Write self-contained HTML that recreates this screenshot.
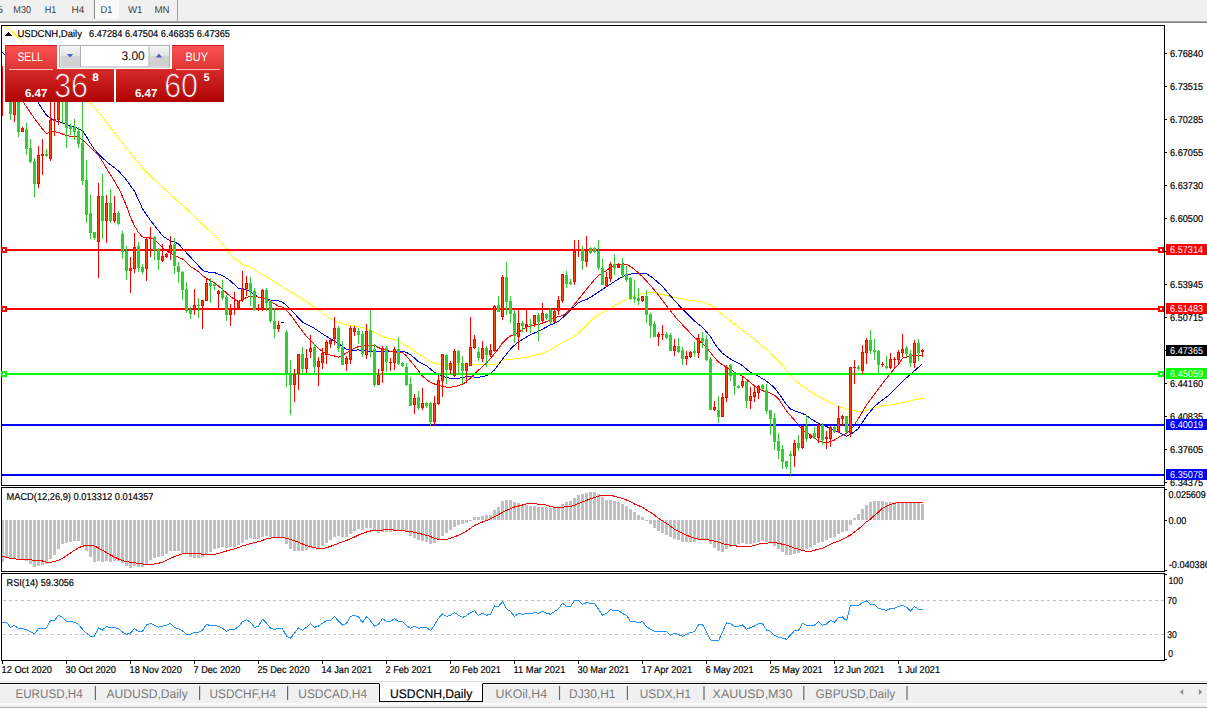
<!DOCTYPE html>
<html><head><meta charset="utf-8"><title>USDCNH,Daily</title>
<style>
html,body{margin:0;padding:0;background:#fff;}
body{width:1207px;height:709px;overflow:hidden;position:relative;font-family:"Liberation Sans",sans-serif;}
#toolbar{position:absolute;left:0;top:0;width:1207px;height:21px;background:#f0f0f0;}
#toolbar .tf{position:absolute;top:3px;font-size:11px;color:#444;line-height:13px;white-space:nowrap;}
#tbline1{position:absolute;left:0;top:21px;width:1207px;height:1px;background:#a8a8a8;}
#tbline2{position:absolute;left:0;top:22px;width:1207px;height:1px;background:#7e7e7e;}
#d1btn{position:absolute;left:94px;top:0;width:25px;height:19px;background:#f9f9f9;border-left:1px solid #8a8a8a;box-sizing:border-box;}
#tbsep{position:absolute;left:177px;top:0;width:1px;height:21px;background:#a0a0a0;}
#chart{position:absolute;left:0;top:0;}
#tabs{position:absolute;left:0;top:681px;width:1207px;height:27px;background:#f0f0f0;}
#tabs .ln0{position:absolute;left:0;top:0;width:100%;height:1px;background:#dedede;}
#tabs .ln0b{position:absolute;left:0;top:1px;width:100%;height:1px;background:#fff;}
#tabs .ln1{position:absolute;left:0;top:2px;width:100%;height:1px;background:#000;}
#tabs .ln1b{position:absolute;left:0;top:3px;width:100%;height:1px;background:#fdfdfd;}
#tabs .ln2{position:absolute;left:0;top:22px;width:100%;height:2px;background:#fbfbfb;}
#tabs .ln3{position:absolute;left:0;top:24px;width:100%;height:2px;background:#f0f0f0;border-bottom:1px solid #b0b0b0;}
#tabs .tab{position:absolute;top:5px;font-size:12.5px;line-height:15px;color:#7b7b7b;white-space:nowrap;transform-origin:0 0;}
#tabs .sep{position:absolute;top:7px;width:1px;height:12px;background:#7b7b7b;}
#tabs .active{position:absolute;left:379px;top:2px;width:104px;height:19px;background:#fff;border:1px solid #000;border-top:1px solid #fff;box-sizing:border-box;}
#panel{position:absolute;left:0;top:0;}
</style></head><body>

<div id="toolbar">
<div id="d1btn"></div><div id="tbsep"></div>
<svg width="1207" height="21" style="position:absolute;left:0;top:0" font-family="Liberation Sans, sans-serif" text-rendering="geometricPrecision"><text x="-3" y="13" font-size="10" fill="#3c3c3c" font-weight="normal" text-anchor="start" textLength="6.0" lengthAdjust="spacingAndGlyphs" >5</text><text x="13.3" y="13" font-size="10" fill="#3c3c3c" font-weight="normal" text-anchor="start" textLength="17.7" lengthAdjust="spacingAndGlyphs" >M30</text><text x="44.7" y="13" font-size="10" fill="#3c3c3c" font-weight="normal" text-anchor="start" textLength="11.6" lengthAdjust="spacingAndGlyphs" >H1</text><text x="71.6" y="13" font-size="10" fill="#3c3c3c" font-weight="normal" text-anchor="start" textLength="12.9" lengthAdjust="spacingAndGlyphs" >H4</text><text x="100.6" y="13" font-size="10" fill="#3c3c3c" font-weight="normal" text-anchor="start" textLength="11.7" lengthAdjust="spacingAndGlyphs" >D1</text><text x="128" y="13" font-size="10" fill="#3c3c3c" font-weight="normal" text-anchor="start" textLength="14.5" lengthAdjust="spacingAndGlyphs" >W1</text><text x="154.5" y="13" font-size="10" fill="#3c3c3c" font-weight="normal" text-anchor="start" textLength="15.0" lengthAdjust="spacingAndGlyphs" >MN</text></svg>
</div><div id="tbline1"></div><div id="tbline2"></div>
<svg id="chart" width="1207" height="681" viewBox="0 0 1207 681" font-family="Liberation Sans, sans-serif" text-rendering="geometricPrecision">
<g shape-rendering="crispEdges" fill="#000">
<rect x="1" y="25" width="1164" height="1"/>
<rect x="1" y="25" width="1" height="461"/>
<rect x="1" y="485" width="1164" height="1"/>
<rect x="1164" y="25" width="1" height="461"/>
<rect x="1" y="487" width="1164" height="1"/><rect x="1" y="487" width="1" height="85"/><rect x="1" y="571" width="1164" height="1"/><rect x="1164" y="487" width="1" height="85"/>
<rect x="1" y="573" width="1164" height="1"/><rect x="1" y="573" width="1" height="88"/><rect x="1" y="660" width="1164" height="1"/><rect x="1164" y="573" width="1" height="88"/>
</g>
<defs><clipPath id="cm"><rect x="2" y="26" width="1162" height="459"/></clipPath><clipPath id="cd"><rect x="2" y="488" width="1162" height="83"/></clipPath><clipPath id="cr"><rect x="2" y="574" width="1162" height="86"/></clipPath></defs>
<g clip-path="url(#cm)">
<polyline fill="none" stroke="#ffff00" stroke-width="1.0" stroke-linejoin="round" shape-rendering="crispEdges" points="5.0,25.0 6.5,26.4 10.5,30.2 14.5,34.0 18.5,37.8 22.5,41.6 26.5,45.2 30.5,48.7 34.5,52.2 38.5,55.7 42.5,59.2 46.5,62.9 50.5,66.5 54.5,70.0 58.5,73.7 62.5,77.3 66.5,81.0 70.5,84.7 74.5,88.4 78.5,92.0 82.5,95.7 86.5,99.4 90.5,103.1 94.5,107.5 98.5,112.3 102.5,117.3 106.5,122.5 110.5,127.7 114.5,132.9 118.5,138.1 122.5,143.1 126.5,148.1 130.5,153.0 134.5,158.0 138.5,162.9 142.5,167.9 146.5,172.2 150.5,176.0 154.5,179.8 158.5,183.6 162.5,187.2 166.5,190.8 170.5,194.4 174.5,198.1 178.5,201.7 182.5,205.3 186.5,209.1 190.5,212.8 194.5,216.5 198.5,220.3 202.5,224.1 206.5,227.8 210.5,231.7 214.5,235.7 218.5,239.7 222.5,243.7 226.5,249.2 230.5,254.7 234.5,258.2 238.5,261.7 242.5,264.5 246.5,265.8 250.5,267.2 254.5,269.8 258.5,272.5 262.5,274.8 266.5,276.9 270.5,279.1 274.5,281.7 278.5,284.2 282.5,286.8 286.5,289.4 290.5,291.8 294.5,294.2 298.5,296.6 302.5,299.0 306.5,301.4 310.5,304.4 314.5,307.4 318.5,310.4 322.5,313.2 326.5,315.8 330.5,318.4 334.5,320.7 338.5,322.1 342.5,323.6 346.5,324.9 350.5,325.5 354.5,326.0 358.5,326.5 362.5,327.7 366.5,329.1 370.5,330.4 374.5,332.4 378.5,334.4 382.5,336.4 386.5,337.6 390.5,338.6 394.5,339.6 398.5,340.9 402.5,343.4 406.5,346.0 410.5,348.5 414.5,351.0 418.5,353.6 422.5,356.2 426.5,358.8 430.5,361.4 434.5,363.0 438.5,364.6 442.5,365.2 446.5,365.4 450.5,365.4 454.5,365.0 458.5,364.6 462.5,364.6 466.5,364.6 470.5,364.6 474.5,364.6 478.5,364.6 482.5,364.5 486.5,364.4 490.5,364.3 494.5,364.2 498.5,362.2 502.5,360.0 506.5,359.7 510.5,359.3 514.5,359.0 518.5,358.4 522.5,357.9 526.5,357.4 530.5,356.4 534.5,355.2 538.5,354.6 542.5,353.4 546.5,351.6 550.5,349.7 554.5,347.3 558.5,344.9 562.5,342.6 566.5,340.5 570.5,338.3 574.5,336.1 578.5,333.0 582.5,329.0 586.5,325.1 590.5,321.1 594.5,317.1 598.5,314.8 602.5,312.8 606.5,310.8 610.5,308.3 614.5,305.6 618.5,303.4 622.5,301.4 626.5,299.4 630.5,297.4 634.5,296.0 638.5,294.7 642.5,293.4 646.5,292.9 650.5,292.3 654.5,292.9 658.5,293.7 662.5,294.5 666.5,295.5 670.5,296.5 674.5,297.5 678.5,298.2 682.5,298.9 686.5,299.7 690.5,300.4 694.5,301.0 698.5,301.5 702.5,302.1 706.5,303.2 710.5,305.0 714.5,308.0 718.5,311.5 722.5,314.7 726.5,317.8 730.5,321.0 734.5,324.1 738.5,327.1 742.5,330.2 746.5,333.3 750.5,336.3 754.5,339.4 758.5,342.7 762.5,346.2 766.5,349.6 770.5,353.2 774.5,357.2 778.5,361.2 782.5,365.2 786.5,370.5 790.5,375.8 794.5,379.4 798.5,383.0 802.5,386.1 806.5,388.9 810.5,391.6 814.5,394.0 818.5,396.4 822.5,398.6 826.5,400.6 830.5,402.6 834.5,404.6 838.5,406.6 842.5,407.9 846.5,409.2 850.5,410.2 854.5,410.8 858.5,411.5 862.5,411.3 866.5,410.5 870.5,408.9 874.5,407.6 878.5,406.6 882.5,405.8 886.5,405.4 890.5,404.9 894.5,404.1 898.5,403.3 902.5,402.5 906.5,401.7 910.5,400.9 914.5,399.9 918.5,399.0 922.5,398.0"/>
<polyline fill="none" stroke="#0000dd" stroke-width="1.0" stroke-linejoin="round" shape-rendering="crispEdges" points="1.5,52.0 2.5,52.3 6.5,56.9 10.5,62.8 14.5,68.8 18.5,74.8 22.5,80.8 26.5,86.8 30.5,92.6 34.5,97.8 38.5,102.9 42.5,109.5 46.5,115.2 50.5,118.4 54.5,120.7 58.5,121.7 62.5,122.8 66.5,124.4 70.5,126.1 74.5,127.3 78.5,128.6 82.5,130.7 86.5,136.7 90.5,143.5 94.5,149.6 98.5,154.0 102.5,158.0 106.5,161.6 110.5,164.8 114.5,167.7 118.5,171.0 122.5,175.4 126.5,180.0 130.5,185.7 134.5,191.3 138.5,199.8 142.5,208.7 146.5,214.7 150.5,220.5 154.5,225.5 158.5,230.6 162.5,235.9 166.5,238.5 170.5,240.8 174.5,242.1 178.5,244.0 182.5,248.4 186.5,252.8 190.5,257.1 194.5,261.5 198.5,265.8 202.5,270.2 206.5,271.9 210.5,272.2 214.5,272.6 218.5,274.1 222.5,275.6 226.5,278.1 230.5,281.1 234.5,284.7 238.5,288.2 242.5,288.8 246.5,289.5 250.5,292.0 254.5,295.0 258.5,297.1 262.5,298.1 266.5,299.3 270.5,300.1 274.5,300.1 278.5,300.8 282.5,302.3 286.5,305.4 290.5,309.5 294.5,313.6 298.5,318.0 302.5,322.2 306.5,324.2 310.5,326.2 314.5,328.5 318.5,331.2 322.5,333.9 326.5,336.4 330.5,338.8 334.5,341.2 338.5,343.6 342.5,346.5 346.5,349.6 350.5,350.1 354.5,350.2 358.5,349.9 362.5,350.4 366.5,351.1 370.5,351.4 374.5,351.4 378.5,351.4 382.5,351.4 386.5,351.4 390.5,351.4 394.5,351.4 398.5,351.4 402.5,351.4 406.5,352.3 410.5,354.8 414.5,358.1 418.5,361.8 422.5,363.8 426.5,365.8 430.5,369.1 434.5,372.5 438.5,374.5 442.5,376.0 446.5,377.4 450.5,378.3 454.5,378.3 458.5,378.3 462.5,377.5 466.5,376.7 470.5,376.7 474.5,377.1 478.5,377.4 482.5,376.6 486.5,375.8 490.5,373.6 494.5,369.9 498.5,364.6 502.5,359.3 506.5,354.1 510.5,349.1 514.5,345.2 518.5,341.8 522.5,339.3 526.5,337.0 530.5,334.9 534.5,333.0 538.5,331.2 542.5,329.1 546.5,327.0 550.5,324.9 554.5,323.3 558.5,321.4 562.5,317.8 566.5,314.1 570.5,310.1 574.5,306.3 578.5,302.7 582.5,300.8 586.5,299.7 590.5,297.3 594.5,294.7 598.5,292.0 602.5,289.4 606.5,286.8 610.5,284.2 614.5,281.5 618.5,279.0 622.5,276.6 626.5,275.0 630.5,274.1 634.5,273.6 638.5,273.3 642.5,273.3 646.5,273.8 650.5,276.3 654.5,279.3 658.5,282.9 662.5,286.5 666.5,291.2 670.5,295.9 674.5,300.4 678.5,304.8 682.5,309.2 686.5,313.2 690.5,317.2 694.5,321.0 698.5,324.2 702.5,327.4 706.5,331.9 710.5,336.7 714.5,343.4 718.5,348.8 722.5,353.4 726.5,356.2 730.5,359.0 734.5,361.2 738.5,363.2 742.5,365.6 746.5,369.1 750.5,372.2 754.5,374.2 758.5,376.3 762.5,378.7 766.5,381.1 770.5,384.4 774.5,387.9 778.5,393.0 782.5,398.6 786.5,404.6 790.5,409.0 794.5,410.9 798.5,412.2 802.5,413.6 806.5,415.4 810.5,418.6 814.5,421.0 818.5,423.2 822.5,425.0 826.5,426.6 830.5,428.3 834.5,430.3 838.5,432.3 842.5,434.3 846.5,436.3 850.5,434.5 854.5,431.6 858.5,428.4 862.5,422.3 866.5,416.1 870.5,411.1 874.5,406.6 878.5,403.0 882.5,400.0 886.5,397.0 890.5,393.7 894.5,389.5 898.5,385.3 902.5,381.6 906.5,377.8 910.5,374.3 914.5,370.8 918.5,367.2 922.5,363.6"/>
<polyline fill="none" stroke="#ff0000" stroke-width="1.0" stroke-linejoin="round" shape-rendering="crispEdges" points="8.0,80.0 10.5,83.8 14.5,89.8 18.5,95.7 22.5,101.2 26.5,106.8 30.5,112.7 34.5,118.4 38.5,124.0 42.5,129.0 46.5,133.9 50.5,131.9 54.5,131.7 58.5,132.5 62.5,134.0 66.5,135.5 70.5,136.4 74.5,136.6 78.5,137.3 82.5,140.1 86.5,143.5 90.5,147.5 94.5,151.5 98.5,155.6 102.5,161.4 106.5,168.3 110.5,174.8 114.5,181.2 118.5,188.3 122.5,196.4 126.5,206.2 130.5,217.1 134.5,225.8 138.5,232.5 142.5,237.0 146.5,237.3 150.5,237.7 154.5,239.2 158.5,243.8 162.5,247.5 166.5,250.9 170.5,253.2 174.5,255.4 178.5,257.3 182.5,258.8 186.5,262.7 190.5,266.6 194.5,269.0 198.5,271.7 202.5,275.7 206.5,278.5 210.5,280.5 214.5,283.0 218.5,286.0 222.5,289.5 226.5,293.0 230.5,296.4 234.5,299.6 238.5,301.2 242.5,299.6 246.5,297.4 250.5,296.5 254.5,296.6 258.5,297.1 262.5,298.1 266.5,299.8 270.5,301.7 274.5,303.9 278.5,306.1 282.5,307.1 286.5,310.4 290.5,314.9 294.5,320.3 298.5,325.8 302.5,331.3 306.5,336.5 310.5,340.5 314.5,344.5 318.5,348.5 322.5,351.6 326.5,353.8 330.5,355.1 334.5,356.0 338.5,357.3 342.5,355.3 346.5,352.9 350.5,350.4 354.5,348.2 358.5,346.6 362.5,345.8 366.5,345.0 370.5,345.0 374.5,345.3 378.5,347.6 382.5,349.1 386.5,350.4 390.5,351.4 394.5,352.3 398.5,352.3 402.5,352.3 406.5,356.1 410.5,360.9 414.5,365.9 418.5,370.9 422.5,376.0 426.5,379.4 430.5,382.4 434.5,384.0 438.5,385.4 442.5,386.4 446.5,387.1 450.5,387.2 454.5,386.5 458.5,385.6 462.5,384.3 466.5,381.6 470.5,378.0 474.5,374.1 478.5,370.1 482.5,366.6 486.5,363.0 490.5,358.5 494.5,353.7 498.5,348.4 502.5,343.0 506.5,338.8 510.5,336.0 514.5,335.3 518.5,332.4 522.5,329.4 526.5,326.9 530.5,325.9 534.5,325.0 538.5,324.4 542.5,323.2 546.5,321.6 550.5,319.6 554.5,317.4 558.5,316.8 562.5,315.6 566.5,313.0 570.5,308.9 574.5,304.2 578.5,299.3 582.5,294.3 586.5,289.2 590.5,284.3 594.5,279.6 598.5,275.2 602.5,273.2 606.5,270.6 610.5,267.6 614.5,265.4 618.5,264.4 622.5,263.9 626.5,264.2 630.5,266.6 634.5,269.6 638.5,273.0 642.5,276.7 646.5,281.1 650.5,285.6 654.5,290.1 658.5,295.1 662.5,300.6 666.5,305.8 670.5,310.8 674.5,315.8 678.5,320.8 682.5,324.8 686.5,328.9 690.5,333.4 694.5,337.5 698.5,340.6 702.5,343.5 706.5,347.5 710.5,352.6 714.5,357.6 718.5,362.1 722.5,364.7 726.5,367.2 730.5,369.7 734.5,372.1 738.5,374.1 742.5,376.3 746.5,379.3 750.5,382.5 754.5,386.0 758.5,388.9 762.5,390.6 766.5,392.1 770.5,393.1 774.5,395.1 778.5,398.8 782.5,405.1 786.5,411.0 790.5,415.6 794.5,420.2 798.5,425.1 802.5,430.1 806.5,432.6 810.5,435.2 814.5,438.2 818.5,440.9 822.5,442.2 826.5,442.9 830.5,441.6 834.5,440.0 838.5,437.5 842.5,435.1 846.5,433.1 850.5,430.1 854.5,424.7 858.5,418.3 862.5,411.6 866.5,405.0 870.5,399.4 874.5,394.1 878.5,388.7 882.5,383.5 886.5,378.4 890.5,373.3 894.5,368.7 898.5,364.2 902.5,358.2 906.5,357.0 910.5,355.6 914.5,355.4 918.5,355.2 922.5,355.0"/>
</g>
<rect x="2" y="249" width="1162" height="2" fill="#ff0000" shape-rendering="crispEdges"/><rect x="1" y="247" width="6" height="6" fill="#ff0000" shape-rendering="crispEdges"/><rect x="3" y="249" width="2" height="2" fill="#fff" shape-rendering="crispEdges"/><rect x="1158" y="247" width="6" height="6" fill="#ff0000" shape-rendering="crispEdges"/><rect x="1160" y="249" width="2" height="2" fill="#fff" shape-rendering="crispEdges"/>
<rect x="2" y="308" width="1162" height="2" fill="#ff0000" shape-rendering="crispEdges"/><rect x="1" y="306" width="6" height="6" fill="#ff0000" shape-rendering="crispEdges"/><rect x="3" y="308" width="2" height="2" fill="#fff" shape-rendering="crispEdges"/><rect x="1158" y="306" width="6" height="6" fill="#ff0000" shape-rendering="crispEdges"/><rect x="1160" y="308" width="2" height="2" fill="#fff" shape-rendering="crispEdges"/>
<rect x="2" y="373" width="1162" height="2" fill="#00ff00" shape-rendering="crispEdges"/><rect x="1" y="371" width="6" height="6" fill="#00ff00" shape-rendering="crispEdges"/><rect x="3" y="373" width="2" height="2" fill="#fff" shape-rendering="crispEdges"/><rect x="1158" y="371" width="6" height="6" fill="#00ff00" shape-rendering="crispEdges"/><rect x="1160" y="373" width="2" height="2" fill="#fff" shape-rendering="crispEdges"/>
<rect x="2" y="424" width="1162" height="2" fill="#0000ff" shape-rendering="crispEdges"/>
<rect x="2" y="474" width="1162" height="2" fill="#0000ff" shape-rendering="crispEdges"/>
<g clip-path="url(#cm)">
<g shape-rendering="crispEdges"><rect x="2.0" y="66.0" width="1" height="50.0" fill="#ff0000"/><rect x="6.0" y="60.0" width="1" height="39.0" fill="#32cd32"/><rect x="5.0" y="70.0" width="3" height="25.0" fill="#32cd32"/><rect x="10.0" y="80.0" width="1" height="39.7" fill="#32cd32"/><rect x="9.0" y="85.0" width="3" height="28.7" fill="#32cd32"/><rect x="14.0" y="80.0" width="1" height="41.6" fill="#ff0000"/><rect x="13.0" y="86.0" width="3" height="28.5" fill="#ff0000"/><rect x="14.0" y="87.0" width="1" height="26.5" fill="#ff4800"/><rect x="18.0" y="85.0" width="1" height="51.7" fill="#32cd32"/><rect x="17.0" y="90.0" width="3" height="41.7" fill="#32cd32"/><rect x="22.0" y="127.0" width="1" height="5.0" fill="#ff0000"/><rect x="21.0" y="127.8" width="3" height="3.9" fill="#ff0000"/><rect x="22.0" y="128.8" width="1" height="1.9" fill="#ff4800"/><rect x="26.0" y="123.3" width="1" height="31.4" fill="#32cd32"/><rect x="25.0" y="128.9" width="3" height="19.8" fill="#32cd32"/><rect x="30.0" y="139.2" width="1" height="23.6" fill="#32cd32"/><rect x="29.0" y="148.0" width="3" height="14.0" fill="#32cd32"/><rect x="34.0" y="157.8" width="1" height="38.8" fill="#32cd32"/><rect x="33.0" y="160.9" width="3" height="23.0" fill="#32cd32"/><rect x="38.0" y="146.3" width="1" height="41.4" fill="#ff0000"/><rect x="37.0" y="155.0" width="3" height="28.9" fill="#ff0000"/><rect x="38.0" y="156.0" width="1" height="26.9" fill="#ff4800"/><rect x="42.0" y="139.2" width="1" height="35.6" fill="#ff0000"/><rect x="41.0" y="153.9" width="3" height="1.8" fill="#ff0000"/><rect x="46.0" y="149.0" width="1" height="8.0" fill="#32cd32"/><rect x="45.0" y="153.9" width="3" height="2.1" fill="#32cd32"/><rect x="50.0" y="100.0" width="1" height="60.6" fill="#ff0000"/><rect x="49.0" y="119.7" width="3" height="38.8" fill="#ff0000"/><rect x="50.0" y="120.7" width="1" height="36.8" fill="#ff4800"/><rect x="54.0" y="92.0" width="1" height="44.0" fill="#ff0000"/><rect x="53.0" y="119.0" width="3" height="2.2" fill="#ff0000"/><rect x="58.0" y="88.0" width="1" height="36.7" fill="#ff0000"/><rect x="57.0" y="96.0" width="3" height="23.7" fill="#ff0000"/><rect x="58.0" y="97.0" width="1" height="21.7" fill="#ff4800"/><rect x="62.0" y="85.0" width="1" height="39.0" fill="#32cd32"/><rect x="61.0" y="90.0" width="3" height="10.0" fill="#32cd32"/><rect x="66.0" y="90.0" width="1" height="57.7" fill="#32cd32"/><rect x="65.0" y="98.0" width="3" height="29.8" fill="#32cd32"/><rect x="70.0" y="124.0" width="1" height="10.6" fill="#32cd32"/><rect x="69.0" y="126.4" width="3" height="2.5" fill="#32cd32"/><rect x="74.0" y="119.0" width="1" height="20.8" fill="#32cd32"/><rect x="73.0" y="126.8" width="3" height="4.9" fill="#32cd32"/><rect x="78.0" y="126.8" width="1" height="20.9" fill="#32cd32"/><rect x="77.0" y="131.3" width="3" height="12.4" fill="#32cd32"/><rect x="82.0" y="100.0" width="1" height="84.6" fill="#32cd32"/><rect x="81.0" y="143.0" width="3" height="37.5" fill="#32cd32"/><rect x="86.0" y="160.2" width="1" height="62.6" fill="#32cd32"/><rect x="85.0" y="180.1" width="3" height="34.9" fill="#32cd32"/><rect x="90.0" y="194.8" width="1" height="44.0" fill="#32cd32"/><rect x="89.0" y="213.0" width="3" height="20.3" fill="#32cd32"/><rect x="94.0" y="232.0" width="1" height="8.0" fill="#32cd32"/><rect x="93.0" y="232.4" width="3" height="5.9" fill="#32cd32"/><rect x="98.0" y="182.8" width="1" height="95.1" fill="#ff0000"/><rect x="97.0" y="196.0" width="3" height="46.0" fill="#ff0000"/><rect x="98.0" y="197.0" width="1" height="44.0" fill="#ff4800"/><rect x="102.0" y="174.0" width="1" height="64.8" fill="#32cd32"/><rect x="101.0" y="196.0" width="3" height="25.0" fill="#32cd32"/><rect x="106.0" y="194.8" width="1" height="47.7" fill="#ff0000"/><rect x="105.0" y="203.0" width="3" height="17.5" fill="#ff0000"/><rect x="106.0" y="204.0" width="1" height="15.5" fill="#ff4800"/><rect x="110.0" y="189.3" width="1" height="33.9" fill="#32cd32"/><rect x="109.0" y="203.0" width="3" height="17.5" fill="#32cd32"/><rect x="114.0" y="196.0" width="1" height="27.2" fill="#ff0000"/><rect x="113.0" y="213.0" width="3" height="8.0" fill="#ff0000"/><rect x="114.0" y="214.0" width="1" height="6.0" fill="#ff4800"/><rect x="118.0" y="211.3" width="1" height="13.7" fill="#32cd32"/><rect x="117.0" y="213.0" width="3" height="11.0" fill="#32cd32"/><rect x="122.0" y="231.0" width="1" height="28.0" fill="#32cd32"/><rect x="121.0" y="233.9" width="3" height="17.8" fill="#32cd32"/><rect x="126.0" y="246.0" width="1" height="34.0" fill="#32cd32"/><rect x="125.0" y="250.7" width="3" height="20.3" fill="#32cd32"/><rect x="130.0" y="257.0" width="1" height="35.6" fill="#ff0000"/><rect x="129.0" y="268.0" width="3" height="3.0" fill="#ff0000"/><rect x="130.0" y="269.0" width="1" height="1.0" fill="#ff4800"/><rect x="134.0" y="233.3" width="1" height="39.5" fill="#ff0000"/><rect x="133.0" y="247.0" width="3" height="22.0" fill="#ff0000"/><rect x="134.0" y="248.0" width="1" height="20.0" fill="#ff4800"/><rect x="138.0" y="242.0" width="1" height="29.8" fill="#32cd32"/><rect x="137.0" y="246.0" width="3" height="22.0" fill="#32cd32"/><rect x="142.0" y="264.0" width="1" height="9.7" fill="#32cd32"/><rect x="141.0" y="267.0" width="3" height="4.8" fill="#32cd32"/><rect x="146.0" y="237.9" width="1" height="43.1" fill="#ff0000"/><rect x="145.0" y="238.8" width="3" height="30.2" fill="#ff0000"/><rect x="146.0" y="239.8" width="1" height="28.2" fill="#ff4800"/><rect x="150.0" y="227.0" width="1" height="29.6" fill="#ff0000"/><rect x="149.0" y="237.5" width="3" height="1.9" fill="#ff0000"/><rect x="154.0" y="236.0" width="1" height="24.0" fill="#32cd32"/><rect x="153.0" y="237.0" width="3" height="12.8" fill="#32cd32"/><rect x="158.0" y="248.0" width="1" height="22.0" fill="#32cd32"/><rect x="157.0" y="248.5" width="3" height="11.5" fill="#32cd32"/><rect x="162.0" y="244.3" width="1" height="17.4" fill="#ff0000"/><rect x="161.0" y="256.0" width="3" height="4.8" fill="#ff0000"/><rect x="162.0" y="257.0" width="1" height="2.8" fill="#ff4800"/><rect x="166.0" y="252.6" width="1" height="5.4" fill="#ff0000"/><rect x="165.0" y="253.5" width="3" height="3.5" fill="#ff0000"/><rect x="166.0" y="254.5" width="1" height="1.5" fill="#ff4800"/><rect x="170.0" y="236.0" width="1" height="23.7" fill="#ff0000"/><rect x="169.0" y="244.8" width="3" height="7.8" fill="#ff0000"/><rect x="170.0" y="245.8" width="1" height="5.8" fill="#ff4800"/><rect x="174.0" y="237.9" width="1" height="35.6" fill="#32cd32"/><rect x="173.0" y="244.2" width="3" height="21.3" fill="#32cd32"/><rect x="178.0" y="261.7" width="1" height="21.0" fill="#32cd32"/><rect x="177.0" y="266.0" width="3" height="5.7" fill="#32cd32"/><rect x="182.0" y="270.6" width="1" height="29.2" fill="#32cd32"/><rect x="181.0" y="271.9" width="3" height="17.8" fill="#32cd32"/><rect x="186.0" y="282.0" width="1" height="31.0" fill="#32cd32"/><rect x="185.0" y="288.9" width="3" height="21.7" fill="#32cd32"/><rect x="190.0" y="306.7" width="1" height="12.0" fill="#32cd32"/><rect x="189.0" y="309.8" width="3" height="3.9" fill="#32cd32"/><rect x="194.0" y="288.9" width="1" height="25.6" fill="#ff0000"/><rect x="193.0" y="304.7" width="3" height="4.3" fill="#ff0000"/><rect x="194.0" y="305.7" width="1" height="2.3" fill="#ff4800"/><rect x="198.0" y="297.8" width="1" height="19.8" fill="#32cd32"/><rect x="197.0" y="305.0" width="3" height="1.3" fill="#32cd32"/><rect x="202.0" y="299.8" width="1" height="29.0" fill="#ff0000"/><rect x="201.0" y="300.0" width="3" height="6.3" fill="#ff0000"/><rect x="202.0" y="301.0" width="1" height="4.3" fill="#ff4800"/><rect x="206.0" y="278.0" width="1" height="22.5" fill="#ff0000"/><rect x="205.0" y="282.7" width="3" height="17.8" fill="#ff0000"/><rect x="206.0" y="283.7" width="1" height="15.8" fill="#ff4800"/><rect x="210.0" y="278.0" width="1" height="24.9" fill="#32cd32"/><rect x="209.0" y="282.7" width="3" height="3.1" fill="#32cd32"/><rect x="214.0" y="282.7" width="1" height="7.0" fill="#32cd32"/><rect x="213.0" y="284.0" width="3" height="1.5" fill="#32cd32"/><rect x="218.0" y="290.0" width="1" height="17.5" fill="#ff0000"/><rect x="217.0" y="291.0" width="3" height="3.3" fill="#ff0000"/><rect x="218.0" y="292.0" width="1" height="1.3" fill="#ff4800"/><rect x="222.0" y="279.6" width="1" height="20.2" fill="#32cd32"/><rect x="221.0" y="290.8" width="3" height="7.4" fill="#32cd32"/><rect x="226.0" y="294.8" width="1" height="25.9" fill="#32cd32"/><rect x="225.0" y="296.7" width="3" height="18.3" fill="#32cd32"/><rect x="230.0" y="304.0" width="1" height="21.7" fill="#ff0000"/><rect x="229.0" y="309.0" width="3" height="6.3" fill="#ff0000"/><rect x="230.0" y="310.0" width="1" height="4.3" fill="#ff4800"/><rect x="234.0" y="292.0" width="1" height="22.5" fill="#ff0000"/><rect x="233.0" y="307.5" width="3" height="1.5" fill="#ff0000"/><rect x="238.0" y="300.5" width="1" height="7.8" fill="#ff0000"/><rect x="237.0" y="301.3" width="3" height="6.2" fill="#ff0000"/><rect x="238.0" y="302.3" width="1" height="4.2" fill="#ff4800"/><rect x="242.0" y="271.0" width="1" height="31.0" fill="#ff0000"/><rect x="241.0" y="288.0" width="3" height="11.8" fill="#ff0000"/><rect x="242.0" y="289.0" width="1" height="9.8" fill="#ff4800"/><rect x="246.0" y="275.7" width="1" height="20.2" fill="#ff0000"/><rect x="245.0" y="283.0" width="3" height="5.6" fill="#ff0000"/><rect x="246.0" y="284.0" width="1" height="3.6" fill="#ff4800"/><rect x="250.0" y="277.3" width="1" height="28.2" fill="#32cd32"/><rect x="249.0" y="283.0" width="3" height="9.0" fill="#32cd32"/><rect x="254.0" y="288.0" width="1" height="22.6" fill="#32cd32"/><rect x="253.0" y="291.2" width="3" height="18.6" fill="#32cd32"/><rect x="258.0" y="304.0" width="1" height="7.0" fill="#ff0000"/><rect x="257.0" y="308.0" width="3" height="1.0" fill="#ff0000"/><rect x="262.0" y="288.9" width="1" height="21.9" fill="#ff0000"/><rect x="261.0" y="290.0" width="3" height="18.3" fill="#ff0000"/><rect x="262.0" y="291.0" width="1" height="16.3" fill="#ff4800"/><rect x="266.0" y="288.0" width="1" height="23.0" fill="#32cd32"/><rect x="265.0" y="290.0" width="3" height="12.6" fill="#32cd32"/><rect x="270.0" y="300.2" width="1" height="23.0" fill="#32cd32"/><rect x="269.0" y="301.0" width="3" height="20.3" fill="#32cd32"/><rect x="274.0" y="308.3" width="1" height="29.4" fill="#32cd32"/><rect x="273.0" y="321.2" width="3" height="7.3" fill="#32cd32"/><rect x="278.0" y="321.2" width="1" height="10.6" fill="#ff0000"/><rect x="277.0" y="325.2" width="3" height="3.3" fill="#ff0000"/><rect x="278.0" y="326.2" width="1" height="1.3" fill="#ff4800"/><rect x="282.0" y="322.2" width="1" height="1.0" fill="#000"/><rect x="281.0" y="322.2" width="3" height="1.0" fill="#000"/><rect x="286.0" y="330.0" width="1" height="56.9" fill="#32cd32"/><rect x="285.0" y="331.8" width="3" height="42.6" fill="#32cd32"/><rect x="290.0" y="359.7" width="1" height="55.1" fill="#32cd32"/><rect x="289.0" y="373.5" width="3" height="11.9" fill="#32cd32"/><rect x="294.0" y="369.3" width="1" height="32.7" fill="#ff0000"/><rect x="293.0" y="373.5" width="3" height="11.9" fill="#ff0000"/><rect x="294.0" y="374.5" width="1" height="9.9" fill="#ff4800"/><rect x="298.0" y="353.9" width="1" height="36.1" fill="#ff0000"/><rect x="297.0" y="354.2" width="3" height="19.3" fill="#ff0000"/><rect x="298.0" y="355.2" width="1" height="17.3" fill="#ff4800"/><rect x="302.0" y="347.2" width="1" height="26.3" fill="#32cd32"/><rect x="301.0" y="354.2" width="3" height="14.7" fill="#32cd32"/><rect x="306.0" y="349.0" width="1" height="23.6" fill="#ff0000"/><rect x="305.0" y="358.3" width="3" height="10.6" fill="#ff0000"/><rect x="306.0" y="359.3" width="1" height="8.6" fill="#ff4800"/><rect x="310.0" y="335.0" width="1" height="22.5" fill="#ff0000"/><rect x="309.0" y="348.3" width="3" height="3.2" fill="#ff0000"/><rect x="310.0" y="349.3" width="1" height="1.2" fill="#ff4800"/><rect x="314.0" y="344.0" width="1" height="29.5" fill="#32cd32"/><rect x="313.0" y="346.9" width="3" height="19.8" fill="#32cd32"/><rect x="318.0" y="357.0" width="1" height="28.8" fill="#ff0000"/><rect x="317.0" y="361.2" width="3" height="5.5" fill="#ff0000"/><rect x="318.0" y="362.2" width="1" height="3.5" fill="#ff4800"/><rect x="322.0" y="348.3" width="1" height="20.6" fill="#ff0000"/><rect x="321.0" y="353.3" width="3" height="9.2" fill="#ff0000"/><rect x="322.0" y="354.3" width="1" height="7.2" fill="#ff4800"/><rect x="326.0" y="339.9" width="1" height="24.4" fill="#ff0000"/><rect x="325.0" y="342.3" width="3" height="12.8" fill="#ff0000"/><rect x="326.0" y="343.3" width="1" height="10.8" fill="#ff4800"/><rect x="330.0" y="338.6" width="1" height="9.2" fill="#ff0000"/><rect x="329.0" y="339.9" width="3" height="3.7" fill="#ff0000"/><rect x="330.0" y="340.9" width="1" height="1.7" fill="#ff4800"/><rect x="334.0" y="317.2" width="1" height="27.5" fill="#ff0000"/><rect x="333.0" y="328.2" width="3" height="11.0" fill="#ff0000"/><rect x="334.0" y="329.2" width="1" height="9.0" fill="#ff4800"/><rect x="338.0" y="325.8" width="1" height="25.7" fill="#32cd32"/><rect x="337.0" y="328.2" width="3" height="19.6" fill="#32cd32"/><rect x="342.0" y="341.0" width="1" height="23.9" fill="#32cd32"/><rect x="341.0" y="346.9" width="3" height="18.0" fill="#32cd32"/><rect x="346.0" y="356.4" width="1" height="14.3" fill="#ff0000"/><rect x="345.0" y="357.5" width="3" height="6.8" fill="#ff0000"/><rect x="346.0" y="358.5" width="1" height="4.8" fill="#ff4800"/><rect x="350.0" y="325.8" width="1" height="37.7" fill="#ff0000"/><rect x="349.0" y="328.0" width="3" height="31.5" fill="#ff0000"/><rect x="350.0" y="329.0" width="1" height="29.5" fill="#ff4800"/><rect x="354.0" y="326.4" width="1" height="9.9" fill="#ff0000"/><rect x="353.0" y="328.3" width="3" height="3.7" fill="#ff0000"/><rect x="354.0" y="329.3" width="1" height="1.7" fill="#ff4800"/><rect x="358.0" y="328.0" width="1" height="15.5" fill="#32cd32"/><rect x="357.0" y="331.4" width="3" height="3.7" fill="#32cd32"/><rect x="362.0" y="330.8" width="1" height="26.1" fill="#32cd32"/><rect x="361.0" y="333.9" width="3" height="20.2" fill="#32cd32"/><rect x="366.0" y="323.9" width="1" height="34.8" fill="#ff0000"/><rect x="365.0" y="331.2" width="3" height="23.5" fill="#ff0000"/><rect x="366.0" y="332.2" width="1" height="21.5" fill="#ff4800"/><rect x="370.0" y="310.0" width="1" height="46.9" fill="#32cd32"/><rect x="369.0" y="330.3" width="3" height="21.1" fill="#32cd32"/><rect x="374.0" y="344.0" width="1" height="43.2" fill="#32cd32"/><rect x="373.0" y="349.2" width="3" height="35.6" fill="#32cd32"/><rect x="378.0" y="369.4" width="1" height="15.4" fill="#ff0000"/><rect x="377.0" y="374.9" width="3" height="9.9" fill="#ff0000"/><rect x="378.0" y="375.9" width="1" height="7.9" fill="#ff4800"/><rect x="382.0" y="345.9" width="1" height="37.0" fill="#ff0000"/><rect x="381.0" y="348.0" width="3" height="22.6" fill="#ff0000"/><rect x="382.0" y="349.0" width="1" height="20.6" fill="#ff4800"/><rect x="386.0" y="345.9" width="1" height="26.0" fill="#32cd32"/><rect x="385.0" y="348.0" width="3" height="14.4" fill="#32cd32"/><rect x="390.0" y="357.8" width="1" height="12.8" fill="#ff0000"/><rect x="389.0" y="362.0" width="3" height="1.3" fill="#ff0000"/><rect x="394.0" y="346.8" width="1" height="22.9" fill="#ff0000"/><rect x="393.0" y="349.2" width="3" height="14.1" fill="#ff0000"/><rect x="394.0" y="350.2" width="1" height="12.1" fill="#ff4800"/><rect x="398.0" y="336.7" width="1" height="28.4" fill="#32cd32"/><rect x="397.0" y="349.2" width="3" height="14.7" fill="#32cd32"/><rect x="402.0" y="362.0" width="1" height="4.5" fill="#32cd32"/><rect x="401.0" y="362.8" width="3" height="3.2" fill="#32cd32"/><rect x="406.0" y="363.3" width="1" height="22.9" fill="#32cd32"/><rect x="405.0" y="367.0" width="3" height="18.3" fill="#32cd32"/><rect x="410.0" y="377.0" width="1" height="29.4" fill="#32cd32"/><rect x="409.0" y="384.0" width="3" height="21.5" fill="#32cd32"/><rect x="414.0" y="394.0" width="1" height="20.1" fill="#ff0000"/><rect x="413.0" y="398.2" width="3" height="6.8" fill="#ff0000"/><rect x="414.0" y="399.2" width="1" height="4.8" fill="#ff4800"/><rect x="418.0" y="390.8" width="1" height="19.2" fill="#32cd32"/><rect x="417.0" y="396.9" width="3" height="11.4" fill="#32cd32"/><rect x="422.0" y="388.0" width="1" height="22.0" fill="#ff0000"/><rect x="421.0" y="403.1" width="3" height="5.2" fill="#ff0000"/><rect x="422.0" y="404.1" width="1" height="3.2" fill="#ff4800"/><rect x="426.0" y="401.8" width="1" height="6.1" fill="#32cd32"/><rect x="425.0" y="403.1" width="3" height="2.9" fill="#32cd32"/><rect x="430.0" y="401.8" width="1" height="23.9" fill="#32cd32"/><rect x="429.0" y="402.8" width="3" height="18.7" fill="#32cd32"/><rect x="434.0" y="395.8" width="1" height="29.9" fill="#ff0000"/><rect x="433.0" y="402.8" width="3" height="18.7" fill="#ff0000"/><rect x="434.0" y="403.8" width="1" height="16.7" fill="#ff4800"/><rect x="438.0" y="375.2" width="1" height="29.8" fill="#ff0000"/><rect x="437.0" y="379.8" width="3" height="24.4" fill="#ff0000"/><rect x="438.0" y="380.8" width="1" height="22.4" fill="#ff4800"/><rect x="442.0" y="353.6" width="1" height="43.6" fill="#ff0000"/><rect x="441.0" y="354.3" width="3" height="26.6" fill="#ff0000"/><rect x="442.0" y="355.3" width="1" height="24.6" fill="#ff4800"/><rect x="446.0" y="353.6" width="1" height="30.0" fill="#32cd32"/><rect x="445.0" y="354.8" width="3" height="14.9" fill="#32cd32"/><rect x="450.0" y="360.6" width="1" height="13.2" fill="#ff0000"/><rect x="449.0" y="362.8" width="3" height="6.9" fill="#ff0000"/><rect x="450.0" y="363.8" width="1" height="4.9" fill="#ff4800"/><rect x="454.0" y="349.0" width="1" height="28.4" fill="#ff0000"/><rect x="453.0" y="350.8" width="3" height="24.8" fill="#ff0000"/><rect x="454.0" y="351.8" width="1" height="22.8" fill="#ff4800"/><rect x="458.0" y="349.9" width="1" height="23.9" fill="#32cd32"/><rect x="457.0" y="350.8" width="3" height="12.0" fill="#32cd32"/><rect x="462.0" y="356.3" width="1" height="27.6" fill="#32cd32"/><rect x="461.0" y="363.1" width="3" height="7.9" fill="#32cd32"/><rect x="466.0" y="362.8" width="1" height="19.8" fill="#ff0000"/><rect x="465.0" y="363.1" width="3" height="7.9" fill="#ff0000"/><rect x="466.0" y="364.1" width="1" height="5.9" fill="#ff4800"/><rect x="470.0" y="317.2" width="1" height="48.8" fill="#ff0000"/><rect x="469.0" y="347.2" width="3" height="18.3" fill="#ff0000"/><rect x="470.0" y="348.2" width="1" height="16.3" fill="#ff4800"/><rect x="474.0" y="334.9" width="1" height="14.1" fill="#ff0000"/><rect x="473.0" y="338.9" width="3" height="9.2" fill="#ff0000"/><rect x="474.0" y="339.9" width="1" height="7.2" fill="#ff4800"/><rect x="478.0" y="347.2" width="1" height="13.4" fill="#32cd32"/><rect x="477.0" y="352.1" width="3" height="6.1" fill="#32cd32"/><rect x="482.0" y="341.1" width="1" height="21.3" fill="#ff0000"/><rect x="481.0" y="348.1" width="3" height="11.0" fill="#ff0000"/><rect x="482.0" y="349.1" width="1" height="9.0" fill="#ff4800"/><rect x="486.0" y="346.2" width="1" height="21.1" fill="#32cd32"/><rect x="485.0" y="348.1" width="3" height="7.3" fill="#32cd32"/><rect x="490.0" y="344.0" width="1" height="13.2" fill="#ff0000"/><rect x="489.0" y="349.5" width="3" height="5.5" fill="#ff0000"/><rect x="490.0" y="350.5" width="1" height="3.5" fill="#ff4800"/><rect x="494.0" y="305.0" width="1" height="46.7" fill="#ff0000"/><rect x="493.0" y="305.5" width="3" height="45.3" fill="#ff0000"/><rect x="494.0" y="306.5" width="1" height="43.3" fill="#ff4800"/><rect x="498.0" y="296.0" width="1" height="15.7" fill="#32cd32"/><rect x="497.0" y="305.1" width="3" height="6.5" fill="#32cd32"/><rect x="502.0" y="275.0" width="1" height="44.6" fill="#ff0000"/><rect x="501.0" y="276.5" width="3" height="40.2" fill="#ff0000"/><rect x="502.0" y="277.5" width="1" height="38.2" fill="#ff4800"/><rect x="506.0" y="262.2" width="1" height="52.5" fill="#32cd32"/><rect x="505.0" y="276.9" width="3" height="24.9" fill="#32cd32"/><rect x="510.0" y="295.8" width="1" height="26.7" fill="#32cd32"/><rect x="509.0" y="300.9" width="3" height="12.7" fill="#32cd32"/><rect x="514.0" y="309.9" width="1" height="32.7" fill="#32cd32"/><rect x="513.0" y="312.5" width="3" height="23.8" fill="#32cd32"/><rect x="518.0" y="309.5" width="1" height="40.5" fill="#ff0000"/><rect x="517.0" y="323.2" width="3" height="13.3" fill="#ff0000"/><rect x="518.0" y="324.2" width="1" height="11.3" fill="#ff4800"/><rect x="522.0" y="320.9" width="1" height="11.0" fill="#32cd32"/><rect x="521.0" y="323.0" width="3" height="3.4" fill="#32cd32"/><rect x="526.0" y="309.7" width="1" height="22.2" fill="#ff0000"/><rect x="525.0" y="323.9" width="3" height="2.6" fill="#ff0000"/><rect x="530.0" y="318.9" width="1" height="13.8" fill="#32cd32"/><rect x="529.0" y="324.0" width="3" height="1.0" fill="#32cd32"/><rect x="534.0" y="314.8" width="1" height="11.9" fill="#ff0000"/><rect x="533.0" y="315.3" width="3" height="9.1" fill="#ff0000"/><rect x="534.0" y="316.3" width="1" height="7.1" fill="#ff4800"/><rect x="538.0" y="313.0" width="1" height="27.8" fill="#32cd32"/><rect x="537.0" y="315.0" width="3" height="6.6" fill="#32cd32"/><rect x="542.0" y="303.2" width="1" height="20.6" fill="#ff0000"/><rect x="541.0" y="313.3" width="3" height="7.5" fill="#ff0000"/><rect x="542.0" y="314.3" width="1" height="5.5" fill="#ff4800"/><rect x="546.0" y="313.0" width="1" height="6.6" fill="#32cd32"/><rect x="545.0" y="313.5" width="3" height="4.5" fill="#32cd32"/><rect x="550.0" y="308.1" width="1" height="15.9" fill="#32cd32"/><rect x="549.0" y="309.8" width="3" height="12.0" fill="#32cd32"/><rect x="554.0" y="309.5" width="1" height="13.2" fill="#ff0000"/><rect x="553.0" y="311.1" width="3" height="10.7" fill="#ff0000"/><rect x="554.0" y="312.1" width="1" height="8.7" fill="#ff4800"/><rect x="558.0" y="296.3" width="1" height="18.6" fill="#ff0000"/><rect x="557.0" y="300.2" width="3" height="10.8" fill="#ff0000"/><rect x="558.0" y="301.2" width="1" height="8.8" fill="#ff4800"/><rect x="562.0" y="274.3" width="1" height="28.2" fill="#ff0000"/><rect x="561.0" y="274.4" width="3" height="26.3" fill="#ff0000"/><rect x="562.0" y="275.4" width="1" height="24.3" fill="#ff4800"/><rect x="566.0" y="271.2" width="1" height="16.6" fill="#32cd32"/><rect x="565.0" y="274.6" width="3" height="9.3" fill="#32cd32"/><rect x="570.0" y="279.3" width="1" height="5.9" fill="#32cd32"/><rect x="569.0" y="282.0" width="3" height="2.2" fill="#32cd32"/><rect x="574.0" y="240.2" width="1" height="44.5" fill="#ff0000"/><rect x="573.0" y="250.6" width="3" height="31.0" fill="#ff0000"/><rect x="574.0" y="251.6" width="1" height="29.0" fill="#ff4800"/><rect x="578.0" y="240.2" width="1" height="16.6" fill="#ff0000"/><rect x="577.0" y="249.0" width="3" height="2.0" fill="#ff0000"/><rect x="582.0" y="245.9" width="1" height="24.1" fill="#32cd32"/><rect x="581.0" y="249.0" width="3" height="12.0" fill="#32cd32"/><rect x="586.0" y="236.2" width="1" height="30.7" fill="#ff0000"/><rect x="585.0" y="250.6" width="3" height="11.3" fill="#ff0000"/><rect x="586.0" y="251.6" width="1" height="9.3" fill="#ff4800"/><rect x="590.0" y="247.0" width="1" height="6.7" fill="#32cd32"/><rect x="589.0" y="248.3" width="3" height="4.6" fill="#32cd32"/><rect x="594.0" y="246.7" width="1" height="5.9" fill="#32cd32"/><rect x="593.0" y="247.9" width="3" height="3.8" fill="#32cd32"/><rect x="598.0" y="240.2" width="1" height="29.8" fill="#32cd32"/><rect x="597.0" y="250.6" width="3" height="17.8" fill="#32cd32"/><rect x="602.0" y="259.1" width="1" height="25.6" fill="#32cd32"/><rect x="601.0" y="268.1" width="3" height="16.6" fill="#32cd32"/><rect x="606.0" y="272.3" width="1" height="14.7" fill="#ff0000"/><rect x="605.0" y="276.9" width="3" height="8.6" fill="#ff0000"/><rect x="606.0" y="277.9" width="1" height="6.6" fill="#ff4800"/><rect x="610.0" y="262.2" width="1" height="19.4" fill="#ff0000"/><rect x="609.0" y="264.1" width="3" height="14.4" fill="#ff0000"/><rect x="610.0" y="265.1" width="1" height="12.4" fill="#ff4800"/><rect x="614.0" y="254.1" width="1" height="20.5" fill="#32cd32"/><rect x="613.0" y="264.1" width="3" height="4.0" fill="#32cd32"/><rect x="618.0" y="263.0" width="1" height="5.1" fill="#ff0000"/><rect x="617.0" y="265.0" width="3" height="2.6" fill="#ff0000"/><rect x="622.0" y="257.8" width="1" height="20.4" fill="#32cd32"/><rect x="621.0" y="263.7" width="3" height="11.6" fill="#32cd32"/><rect x="626.0" y="266.0" width="1" height="15.6" fill="#32cd32"/><rect x="625.0" y="273.5" width="3" height="6.4" fill="#32cd32"/><rect x="630.0" y="277.0" width="1" height="23.0" fill="#32cd32"/><rect x="629.0" y="277.5" width="3" height="21.5" fill="#32cd32"/><rect x="634.0" y="280.3" width="1" height="22.4" fill="#32cd32"/><rect x="633.0" y="297.0" width="3" height="2.0" fill="#32cd32"/><rect x="638.0" y="288.0" width="1" height="16.9" fill="#32cd32"/><rect x="637.0" y="297.6" width="3" height="3.3" fill="#32cd32"/><rect x="642.0" y="295.7" width="1" height="5.8" fill="#ff0000"/><rect x="641.0" y="296.3" width="3" height="4.9" fill="#ff0000"/><rect x="642.0" y="297.3" width="1" height="2.9" fill="#ff4800"/><rect x="646.0" y="290.2" width="1" height="32.7" fill="#32cd32"/><rect x="645.0" y="295.7" width="3" height="18.9" fill="#32cd32"/><rect x="650.0" y="313.3" width="1" height="24.3" fill="#32cd32"/><rect x="649.0" y="313.7" width="3" height="12.5" fill="#32cd32"/><rect x="654.0" y="321.0" width="1" height="15.7" fill="#32cd32"/><rect x="653.0" y="324.4" width="3" height="12.3" fill="#32cd32"/><rect x="658.0" y="332.0" width="1" height="13.8" fill="#ff0000"/><rect x="657.0" y="333.5" width="3" height="3.2" fill="#ff0000"/><rect x="658.0" y="334.5" width="1" height="1.2" fill="#ff4800"/><rect x="662.0" y="325.0" width="1" height="14.8" fill="#ff0000"/><rect x="661.0" y="333.9" width="3" height="1.5" fill="#ff0000"/><rect x="666.0" y="332.0" width="1" height="6.5" fill="#32cd32"/><rect x="665.0" y="333.9" width="3" height="3.7" fill="#32cd32"/><rect x="670.0" y="333.0" width="1" height="17.8" fill="#32cd32"/><rect x="669.0" y="334.8" width="3" height="16.0" fill="#32cd32"/><rect x="674.0" y="339.0" width="1" height="16.9" fill="#ff0000"/><rect x="673.0" y="345.8" width="3" height="5.0" fill="#ff0000"/><rect x="674.0" y="346.8" width="1" height="3.0" fill="#ff4800"/><rect x="678.0" y="337.9" width="1" height="15.3" fill="#32cd32"/><rect x="677.0" y="345.8" width="3" height="6.1" fill="#32cd32"/><rect x="682.0" y="346.7" width="1" height="18.4" fill="#32cd32"/><rect x="681.0" y="350.4" width="3" height="8.8" fill="#32cd32"/><rect x="686.0" y="351.3" width="1" height="13.4" fill="#ff0000"/><rect x="685.0" y="355.6" width="3" height="3.1" fill="#ff0000"/><rect x="686.0" y="356.6" width="1" height="1.1" fill="#ff4800"/><rect x="690.0" y="350.8" width="1" height="7.0" fill="#ff0000"/><rect x="689.0" y="351.9" width="3" height="5.5" fill="#ff0000"/><rect x="690.0" y="352.9" width="1" height="3.5" fill="#ff4800"/><rect x="694.0" y="342.2" width="1" height="14.6" fill="#32cd32"/><rect x="693.0" y="351.3" width="3" height="1.9" fill="#32cd32"/><rect x="698.0" y="334.3" width="1" height="23.5" fill="#ff0000"/><rect x="697.0" y="337.9" width="3" height="15.3" fill="#ff0000"/><rect x="698.0" y="338.9" width="1" height="13.3" fill="#ff4800"/><rect x="702.0" y="332.0" width="1" height="15.8" fill="#32cd32"/><rect x="701.0" y="337.9" width="3" height="3.7" fill="#32cd32"/><rect x="706.0" y="335.4" width="1" height="25.5" fill="#32cd32"/><rect x="705.0" y="339.4" width="3" height="20.5" fill="#32cd32"/><rect x="710.0" y="356.8" width="1" height="52.8" fill="#32cd32"/><rect x="709.0" y="358.8" width="3" height="50.8" fill="#32cd32"/><rect x="714.0" y="401.3" width="1" height="9.7" fill="#ff0000"/><rect x="713.0" y="407.2" width="3" height="3.0" fill="#ff0000"/><rect x="714.0" y="408.2" width="1" height="1.0" fill="#ff4800"/><rect x="718.0" y="396.3" width="1" height="26.3" fill="#32cd32"/><rect x="717.0" y="410.2" width="3" height="6.5" fill="#32cd32"/><rect x="722.0" y="393.4" width="1" height="23.3" fill="#ff0000"/><rect x="721.0" y="397.3" width="3" height="19.4" fill="#ff0000"/><rect x="722.0" y="398.3" width="1" height="17.4" fill="#ff4800"/><rect x="726.0" y="364.7" width="1" height="37.0" fill="#ff0000"/><rect x="725.0" y="366.7" width="3" height="31.6" fill="#ff0000"/><rect x="726.0" y="367.7" width="1" height="29.6" fill="#ff4800"/><rect x="730.0" y="364.1" width="1" height="16.4" fill="#32cd32"/><rect x="729.0" y="365.3" width="3" height="10.3" fill="#32cd32"/><rect x="734.0" y="371.6" width="1" height="23.3" fill="#32cd32"/><rect x="733.0" y="373.2" width="3" height="12.3" fill="#32cd32"/><rect x="738.0" y="384.5" width="1" height="3.3" fill="#32cd32"/><rect x="737.0" y="385.8" width="3" height="2.0" fill="#32cd32"/><rect x="742.0" y="375.6" width="1" height="12.2" fill="#ff0000"/><rect x="741.0" y="381.1" width="3" height="4.7" fill="#ff0000"/><rect x="742.0" y="382.1" width="1" height="2.7" fill="#ff4800"/><rect x="746.0" y="380.5" width="1" height="27.1" fill="#32cd32"/><rect x="745.0" y="381.1" width="3" height="19.8" fill="#32cd32"/><rect x="750.0" y="387.4" width="1" height="21.4" fill="#ff0000"/><rect x="749.0" y="396.3" width="3" height="4.6" fill="#ff0000"/><rect x="750.0" y="397.3" width="1" height="2.6" fill="#ff4800"/><rect x="754.0" y="384.5" width="1" height="17.2" fill="#ff0000"/><rect x="753.0" y="391.8" width="3" height="5.5" fill="#ff0000"/><rect x="754.0" y="392.8" width="1" height="3.5" fill="#ff4800"/><rect x="758.0" y="385.0" width="1" height="13.9" fill="#ff0000"/><rect x="757.0" y="385.5" width="3" height="7.5" fill="#ff0000"/><rect x="758.0" y="386.5" width="1" height="5.5" fill="#ff4800"/><rect x="762.0" y="383.9" width="1" height="6.5" fill="#32cd32"/><rect x="761.0" y="385.0" width="3" height="4.4" fill="#32cd32"/><rect x="766.0" y="383.9" width="1" height="30.2" fill="#32cd32"/><rect x="765.0" y="389.8" width="3" height="21.0" fill="#32cd32"/><rect x="770.0" y="409.6" width="1" height="25.3" fill="#32cd32"/><rect x="769.0" y="410.2" width="3" height="8.5" fill="#32cd32"/><rect x="774.0" y="413.1" width="1" height="36.6" fill="#32cd32"/><rect x="773.0" y="418.1" width="3" height="23.7" fill="#32cd32"/><rect x="778.0" y="433.3" width="1" height="25.3" fill="#32cd32"/><rect x="777.0" y="441.2" width="3" height="9.5" fill="#32cd32"/><rect x="782.0" y="445.1" width="1" height="23.4" fill="#32cd32"/><rect x="781.0" y="448.7" width="3" height="12.8" fill="#32cd32"/><rect x="786.0" y="460.6" width="1" height="7.9" fill="#32cd32"/><rect x="785.0" y="460.9" width="3" height="6.0" fill="#32cd32"/><rect x="790.0" y="451.0" width="1" height="24.4" fill="#32cd32"/><rect x="789.0" y="454.2" width="3" height="1.4" fill="#32cd32"/><rect x="794.0" y="439.7" width="1" height="27.2" fill="#ff0000"/><rect x="793.0" y="442.7" width="3" height="13.1" fill="#ff0000"/><rect x="794.0" y="443.7" width="1" height="11.1" fill="#ff4800"/><rect x="798.0" y="434.8" width="1" height="15.7" fill="#32cd32"/><rect x="797.0" y="442.8" width="3" height="5.6" fill="#32cd32"/><rect x="802.0" y="425.8" width="1" height="23.3" fill="#ff0000"/><rect x="801.0" y="426.2" width="3" height="21.7" fill="#ff0000"/><rect x="802.0" y="427.2" width="1" height="19.7" fill="#ff4800"/><rect x="806.0" y="414.9" width="1" height="26.7" fill="#32cd32"/><rect x="805.0" y="425.8" width="3" height="12.8" fill="#32cd32"/><rect x="810.0" y="433.7" width="1" height="4.9" fill="#ff0000"/><rect x="809.0" y="434.7" width="3" height="3.3" fill="#ff0000"/><rect x="810.0" y="435.7" width="1" height="1.3" fill="#ff4800"/><rect x="814.0" y="426.8" width="1" height="11.8" fill="#32cd32"/><rect x="813.0" y="433.3" width="3" height="3.4" fill="#32cd32"/><rect x="818.0" y="423.8" width="1" height="19.4" fill="#ff0000"/><rect x="817.0" y="424.8" width="3" height="12.8" fill="#ff0000"/><rect x="818.0" y="425.8" width="1" height="10.8" fill="#ff4800"/><rect x="822.0" y="422.8" width="1" height="21.8" fill="#32cd32"/><rect x="821.0" y="424.8" width="3" height="14.8" fill="#32cd32"/><rect x="826.0" y="431.3" width="1" height="17.8" fill="#ff0000"/><rect x="825.0" y="436.7" width="3" height="2.5" fill="#ff0000"/><rect x="830.0" y="426.2" width="1" height="20.9" fill="#ff0000"/><rect x="829.0" y="426.8" width="3" height="12.4" fill="#ff0000"/><rect x="830.0" y="427.8" width="1" height="10.4" fill="#ff4800"/><rect x="834.0" y="426.2" width="1" height="6.5" fill="#32cd32"/><rect x="833.0" y="426.8" width="3" height="4.9" fill="#32cd32"/><rect x="838.0" y="406.0" width="1" height="26.7" fill="#ff0000"/><rect x="837.0" y="417.9" width="3" height="13.8" fill="#ff0000"/><rect x="838.0" y="418.9" width="1" height="11.8" fill="#ff4800"/><rect x="842.0" y="414.9" width="1" height="10.9" fill="#ff0000"/><rect x="841.0" y="415.9" width="3" height="3.0" fill="#ff0000"/><rect x="842.0" y="416.9" width="1" height="1.0" fill="#ff4800"/><rect x="846.0" y="415.9" width="1" height="17.4" fill="#32cd32"/><rect x="845.0" y="416.3" width="3" height="15.4" fill="#32cd32"/><rect x="850.0" y="366.5" width="1" height="70.2" fill="#ff0000"/><rect x="849.0" y="366.9" width="3" height="65.8" fill="#ff0000"/><rect x="850.0" y="367.9" width="1" height="63.8" fill="#ff4800"/><rect x="854.0" y="360.2" width="1" height="24.1" fill="#ff0000"/><rect x="853.0" y="366.9" width="3" height="1.1" fill="#ff0000"/><rect x="858.0" y="364.5" width="1" height="6.9" fill="#32cd32"/><rect x="857.0" y="366.5" width="3" height="2.4" fill="#32cd32"/><rect x="862.0" y="344.8" width="1" height="29.6" fill="#ff0000"/><rect x="861.0" y="352.3" width="3" height="18.5" fill="#ff0000"/><rect x="862.0" y="353.3" width="1" height="16.5" fill="#ff4800"/><rect x="866.0" y="337.8" width="1" height="25.7" fill="#ff0000"/><rect x="865.0" y="339.8" width="3" height="12.9" fill="#ff0000"/><rect x="866.0" y="340.8" width="1" height="10.9" fill="#ff4800"/><rect x="870.0" y="329.9" width="1" height="23.8" fill="#32cd32"/><rect x="869.0" y="339.8" width="3" height="10.9" fill="#32cd32"/><rect x="874.0" y="339.0" width="1" height="20.9" fill="#32cd32"/><rect x="873.0" y="350.0" width="3" height="1.9" fill="#32cd32"/><rect x="878.0" y="349.8" width="1" height="23.7" fill="#32cd32"/><rect x="877.0" y="350.8" width="3" height="14.2" fill="#32cd32"/><rect x="882.0" y="361.8" width="1" height="5.1" fill="#ff0000"/><rect x="881.0" y="363.8" width="3" height="1.1" fill="#ff0000"/><rect x="886.0" y="356.0" width="1" height="13.2" fill="#32cd32"/><rect x="885.0" y="366.1" width="3" height="2.0" fill="#32cd32"/><rect x="890.0" y="352.9" width="1" height="16.1" fill="#ff0000"/><rect x="889.0" y="358.8" width="3" height="9.3" fill="#ff0000"/><rect x="890.0" y="359.8" width="1" height="7.3" fill="#ff4800"/><rect x="894.0" y="357.0" width="1" height="11.1" fill="#ff0000"/><rect x="893.0" y="358.7" width="3" height="1.0" fill="#ff0000"/><rect x="898.0" y="350.0" width="1" height="14.3" fill="#ff0000"/><rect x="897.0" y="351.9" width="3" height="7.8" fill="#ff0000"/><rect x="898.0" y="352.9" width="1" height="5.8" fill="#ff4800"/><rect x="902.0" y="333.9" width="1" height="23.1" fill="#ff0000"/><rect x="901.0" y="349.1" width="3" height="3.8" fill="#ff0000"/><rect x="902.0" y="350.1" width="1" height="1.8" fill="#ff4800"/><rect x="906.0" y="346.0" width="1" height="11.0" fill="#32cd32"/><rect x="905.0" y="347.8" width="3" height="6.0" fill="#32cd32"/><rect x="910.0" y="350.0" width="1" height="16.9" fill="#32cd32"/><rect x="909.0" y="353.8" width="3" height="9.3" fill="#32cd32"/><rect x="914.0" y="340.0" width="1" height="28.0" fill="#ff0000"/><rect x="913.0" y="342.9" width="3" height="19.7" fill="#ff0000"/><rect x="914.0" y="343.9" width="1" height="17.7" fill="#ff4800"/><rect x="918.0" y="339.0" width="1" height="22.0" fill="#32cd32"/><rect x="917.0" y="342.9" width="3" height="10.0" fill="#32cd32"/><rect x="922.0" y="349.1" width="1" height="7.9" fill="#ff0000"/><rect x="921.0" y="349.7" width="3" height="2.2" fill="#ff0000"/></g>
</g>
<rect x="1164" y="25" width="1" height="461" fill="#000" shape-rendering="crispEdges"/>
<rect x="1" y="240" width="0" height="0"/>
<rect x="1165" y="53" width="2" height="1" fill="#000" shape-rendering="crispEdges"/>
<text x="1170" y="57" font-size="10" fill="#000" font-weight="normal" text-anchor="start" textLength="33.2" lengthAdjust="spacingAndGlyphs"  stroke="#000" stroke-width="0.18">6.76840</text>
<rect x="1165" y="86" width="2" height="1" fill="#000" shape-rendering="crispEdges"/>
<text x="1170" y="90" font-size="10" fill="#000" font-weight="normal" text-anchor="start" textLength="33.2" lengthAdjust="spacingAndGlyphs"  stroke="#000" stroke-width="0.18">6.73515</text>
<rect x="1165" y="119" width="2" height="1" fill="#000" shape-rendering="crispEdges"/>
<text x="1170" y="123" font-size="10" fill="#000" font-weight="normal" text-anchor="start" textLength="33.2" lengthAdjust="spacingAndGlyphs"  stroke="#000" stroke-width="0.18">6.70285</text>
<rect x="1165" y="152" width="2" height="1" fill="#000" shape-rendering="crispEdges"/>
<text x="1170" y="156" font-size="10" fill="#000" font-weight="normal" text-anchor="start" textLength="33.2" lengthAdjust="spacingAndGlyphs"  stroke="#000" stroke-width="0.18">6.67055</text>
<rect x="1165" y="185" width="2" height="1" fill="#000" shape-rendering="crispEdges"/>
<text x="1170" y="189" font-size="10" fill="#000" font-weight="normal" text-anchor="start" textLength="33.2" lengthAdjust="spacingAndGlyphs"  stroke="#000" stroke-width="0.18">6.63730</text>
<rect x="1165" y="218" width="2" height="1" fill="#000" shape-rendering="crispEdges"/>
<text x="1170" y="222" font-size="10" fill="#000" font-weight="normal" text-anchor="start" textLength="33.2" lengthAdjust="spacingAndGlyphs"  stroke="#000" stroke-width="0.18">6.60500</text>
<rect x="1165" y="284" width="2" height="1" fill="#000" shape-rendering="crispEdges"/>
<text x="1170" y="288" font-size="10" fill="#000" font-weight="normal" text-anchor="start" textLength="33.2" lengthAdjust="spacingAndGlyphs"  stroke="#000" stroke-width="0.18">6.53945</text>
<rect x="1165" y="317" width="2" height="1" fill="#000" shape-rendering="crispEdges"/>
<text x="1170" y="321" font-size="10" fill="#000" font-weight="normal" text-anchor="start" textLength="33.2" lengthAdjust="spacingAndGlyphs"  stroke="#000" stroke-width="0.18">6.50715</text>
<rect x="1165" y="383" width="2" height="1" fill="#000" shape-rendering="crispEdges"/>
<text x="1170" y="387" font-size="10" fill="#000" font-weight="normal" text-anchor="start" textLength="33.2" lengthAdjust="spacingAndGlyphs"  stroke="#000" stroke-width="0.18">6.44160</text>
<rect x="1165" y="416" width="2" height="1" fill="#000" shape-rendering="crispEdges"/>
<text x="1170" y="420" font-size="10" fill="#000" font-weight="normal" text-anchor="start" textLength="33.2" lengthAdjust="spacingAndGlyphs"  stroke="#000" stroke-width="0.18">6.40835</text>
<rect x="1165" y="449" width="2" height="1" fill="#000" shape-rendering="crispEdges"/>
<text x="1170" y="453" font-size="10" fill="#000" font-weight="normal" text-anchor="start" textLength="33.2" lengthAdjust="spacingAndGlyphs"  stroke="#000" stroke-width="0.18">6.37605</text>
<rect x="1165" y="482" width="2" height="1" fill="#000" shape-rendering="crispEdges"/>
<text x="1170" y="486" font-size="10" fill="#000" font-weight="normal" text-anchor="start" textLength="33.2" lengthAdjust="spacingAndGlyphs"  stroke="#000" stroke-width="0.18">6.34375</text>
<rect x="1165" y="251" width="2" height="1" fill="#000" shape-rendering="crispEdges"/>
<rect x="1165" y="350" width="2" height="1" fill="#000" shape-rendering="crispEdges"/>
<rect x="1166" y="244" width="41" height="11" fill="#ff0000" shape-rendering="crispEdges"/>
<text x="1170" y="253" font-size="10" fill="#fff" font-weight="normal" text-anchor="start" textLength="33.2" lengthAdjust="spacingAndGlyphs" >6.57314</text>
<rect x="1166" y="303" width="41" height="11" fill="#ff0000" shape-rendering="crispEdges"/>
<text x="1170" y="312" font-size="10" fill="#fff" font-weight="normal" text-anchor="start" textLength="33.2" lengthAdjust="spacingAndGlyphs" >6.51483</text>
<rect x="1166" y="345" width="41" height="11" fill="#000000" shape-rendering="crispEdges"/>
<text x="1170" y="354" font-size="10" fill="#fff" font-weight="normal" text-anchor="start" textLength="33.2" lengthAdjust="spacingAndGlyphs" >6.47365</text>
<rect x="1166" y="368" width="41" height="11" fill="#00ff00" shape-rendering="crispEdges"/>
<text x="1170" y="377" font-size="10" fill="#fff" font-weight="normal" text-anchor="start" textLength="33.2" lengthAdjust="spacingAndGlyphs" >6.45059</text>
<rect x="1166" y="419" width="41" height="11" fill="#0000ff" shape-rendering="crispEdges"/>
<text x="1170" y="428" font-size="10" fill="#fff" font-weight="normal" text-anchor="start" textLength="33.2" lengthAdjust="spacingAndGlyphs" >6.40019</text>
<rect x="1166" y="469" width="41" height="11" fill="#0000ff" shape-rendering="crispEdges"/>
<text x="1170" y="478" font-size="10" fill="#fff" font-weight="normal" text-anchor="start" textLength="33.2" lengthAdjust="spacingAndGlyphs" >6.35078</text>
<g fill="#000" shape-rendering="crispEdges"><rect x="8" y="32" width="1" height="1"/><rect x="7" y="33" width="3" height="1"/><rect x="6" y="34" width="5" height="1"/><rect x="5" y="35" width="7" height="1"/></g>
<text x="17.5" y="37" font-size="10" fill="#000" font-weight="normal" text-anchor="start" textLength="64.5" lengthAdjust="spacingAndGlyphs"  stroke="#000" stroke-width="0.18">USDCNH,Daily</text>
<text x="89" y="37" font-size="10" fill="#000" font-weight="normal" text-anchor="start" textLength="141.0" lengthAdjust="spacingAndGlyphs"  stroke="#000" stroke-width="0.18">6.47284 6.47504 6.46835 6.47365</text>
<g clip-path="url(#cd)">
<g fill="#c0c0c0" shape-rendering="crispEdges"><rect x="1" y="520.0" width="3" height="41.9"/><rect x="5" y="520.0" width="3" height="38.2"/><rect x="9" y="520.0" width="3" height="38.2"/><rect x="13" y="520.0" width="3" height="38.7"/><rect x="17" y="520.0" width="3" height="39.0"/><rect x="21" y="520.0" width="3" height="39.8"/><rect x="25" y="520.0" width="3" height="40.5"/><rect x="29" y="520.0" width="3" height="43.5"/><rect x="33" y="520.0" width="3" height="46.8"/><rect x="37" y="520.0" width="3" height="45.7"/><rect x="41" y="520.0" width="3" height="44.8"/><rect x="45" y="520.0" width="3" height="43.5"/><rect x="49" y="520.0" width="3" height="38.7"/><rect x="53" y="520.0" width="3" height="34.7"/><rect x="57" y="520.0" width="3" height="28.7"/><rect x="61" y="520.0" width="3" height="23.6"/><rect x="65" y="520.0" width="3" height="22.5"/><rect x="69" y="520.0" width="3" height="21.5"/><rect x="73" y="520.0" width="3" height="20.7"/><rect x="77" y="520.0" width="3" height="20.9"/><rect x="81" y="520.0" width="3" height="24.7"/><rect x="85" y="520.0" width="3" height="30.6"/><rect x="89" y="520.0" width="3" height="36.5"/><rect x="93" y="520.0" width="3" height="41.6"/><rect x="97" y="520.0" width="3" height="40.9"/><rect x="101" y="520.0" width="3" height="41.6"/><rect x="105" y="520.0" width="3" height="41.2"/><rect x="109" y="520.0" width="3" height="41.6"/><rect x="113" y="520.0" width="3" height="40.9"/><rect x="117" y="520.0" width="3" height="40.5"/><rect x="121" y="520.0" width="3" height="42.5"/><rect x="125" y="520.0" width="3" height="45.7"/><rect x="129" y="520.0" width="3" height="47.6"/><rect x="133" y="520.0" width="3" height="45.7"/><rect x="137" y="520.0" width="3" height="46.8"/><rect x="141" y="520.0" width="3" height="46.8"/><rect x="145" y="520.0" width="3" height="44.1"/><rect x="149" y="520.0" width="3" height="39.5"/><rect x="153" y="520.0" width="3" height="37.6"/><rect x="157" y="520.0" width="3" height="36.5"/><rect x="161" y="520.0" width="3" height="35.8"/><rect x="165" y="520.0" width="3" height="33.6"/><rect x="169" y="520.0" width="3" height="30.6"/><rect x="173" y="520.0" width="3" height="30.6"/><rect x="177" y="520.0" width="3" height="30.6"/><rect x="181" y="520.0" width="3" height="32.6"/><rect x="185" y="520.0" width="3" height="34.4"/><rect x="189" y="520.0" width="3" height="36.5"/><rect x="193" y="520.0" width="3" height="37.8"/><rect x="197" y="520.0" width="3" height="37.8"/><rect x="201" y="520.0" width="3" height="36.5"/><rect x="205" y="520.0" width="3" height="33.9"/><rect x="209" y="520.0" width="3" height="31.7"/><rect x="213" y="520.0" width="3" height="28.7"/><rect x="217" y="520.0" width="3" height="27.6"/><rect x="221" y="520.0" width="3" height="26.8"/><rect x="225" y="520.0" width="3" height="27.6"/><rect x="229" y="520.0" width="3" height="26.8"/><rect x="233" y="520.0" width="3" height="26.5"/><rect x="237" y="520.0" width="3" height="25.2"/><rect x="241" y="520.0" width="3" height="22.9"/><rect x="245" y="520.0" width="3" height="19.6"/><rect x="249" y="520.0" width="3" height="17.7"/><rect x="253" y="520.0" width="3" height="18.8"/><rect x="257" y="520.0" width="3" height="18.8"/><rect x="261" y="520.0" width="3" height="16.6"/><rect x="265" y="520.0" width="3" height="15.8"/><rect x="269" y="520.0" width="3" height="16.6"/><rect x="273" y="520.0" width="3" height="18.2"/><rect x="277" y="520.0" width="3" height="18.2"/><rect x="281" y="520.0" width="3" height="18.2"/><rect x="285" y="520.0" width="3" height="23.6"/><rect x="289" y="520.0" width="3" height="28.7"/><rect x="293" y="520.0" width="3" height="30.6"/><rect x="297" y="520.0" width="3" height="30.6"/><rect x="301" y="520.0" width="3" height="30.6"/><rect x="305" y="520.0" width="3" height="29.8"/><rect x="309" y="520.0" width="3" height="27.6"/><rect x="313" y="520.0" width="3" height="27.9"/><rect x="317" y="520.0" width="3" height="27.9"/><rect x="321" y="520.0" width="3" height="25.8"/><rect x="325" y="520.0" width="3" height="22.9"/><rect x="329" y="520.0" width="3" height="19.6"/><rect x="333" y="520.0" width="3" height="16.6"/><rect x="337" y="520.0" width="3" height="15.5"/><rect x="341" y="520.0" width="3" height="16.6"/><rect x="345" y="520.0" width="3" height="16.6"/><rect x="349" y="520.0" width="3" height="13.6"/><rect x="353" y="520.0" width="3" height="10.7"/><rect x="357" y="520.0" width="3" height="8.5"/><rect x="361" y="520.0" width="3" height="9.8"/><rect x="365" y="520.0" width="3" height="7.7"/><rect x="369" y="520.0" width="3" height="7.7"/><rect x="373" y="520.0" width="3" height="10.0"/><rect x="377" y="520.0" width="3" height="12.9"/><rect x="381" y="520.0" width="3" height="11.5"/><rect x="385" y="520.0" width="3" height="11.5"/><rect x="389" y="520.0" width="3" height="11.5"/><rect x="393" y="520.0" width="3" height="10.0"/><rect x="397" y="520.0" width="3" height="10.0"/><rect x="401" y="520.0" width="3" height="10.4"/><rect x="405" y="520.0" width="3" height="12.2"/><rect x="409" y="520.0" width="3" height="15.8"/><rect x="413" y="520.0" width="3" height="17.6"/><rect x="417" y="520.0" width="3" height="19.8"/><rect x="421" y="520.0" width="3" height="20.6"/><rect x="425" y="520.0" width="3" height="21.7"/><rect x="429" y="520.0" width="3" height="23.6"/><rect x="433" y="520.0" width="3" height="22.8"/><rect x="437" y="520.0" width="3" height="20.4"/><rect x="441" y="520.0" width="3" height="15.8"/><rect x="445" y="520.0" width="3" height="12.9"/><rect x="449" y="520.0" width="3" height="9.6"/><rect x="453" y="520.0" width="3" height="6.6"/><rect x="457" y="520.0" width="3" height="4.7"/><rect x="461" y="520.0" width="3" height="3.6"/><rect x="465" y="520.0" width="3" height="2.5"/><rect x="469" y="520.0" width="3" height="0.7"/><rect x="473" y="516.9" width="3" height="3.1"/><rect x="477" y="516.9" width="3" height="3.1"/><rect x="481" y="516.2" width="3" height="3.8"/><rect x="485" y="515.1" width="3" height="4.9"/><rect x="489" y="515.1" width="3" height="4.9"/><rect x="493" y="510.2" width="3" height="9.8"/><rect x="497" y="507.0" width="3" height="13.0"/><rect x="501" y="501.1" width="3" height="18.9"/><rect x="505" y="500.0" width="3" height="20.0"/><rect x="509" y="500.0" width="3" height="20.0"/><rect x="513" y="502.2" width="3" height="17.8"/><rect x="517" y="503.0" width="3" height="17.0"/><rect x="521" y="504.1" width="3" height="15.9"/><rect x="525" y="504.8" width="3" height="15.2"/><rect x="529" y="505.9" width="3" height="14.1"/><rect x="533" y="505.9" width="3" height="14.1"/><rect x="537" y="507.0" width="3" height="13.0"/><rect x="541" y="507.0" width="3" height="13.0"/><rect x="545" y="507.0" width="3" height="13.0"/><rect x="549" y="508.1" width="3" height="11.9"/><rect x="553" y="508.1" width="3" height="11.9"/><rect x="557" y="508.1" width="3" height="11.9"/><rect x="561" y="504.1" width="3" height="15.9"/><rect x="565" y="502.2" width="3" height="17.8"/><rect x="569" y="501.1" width="3" height="18.9"/><rect x="573" y="498.1" width="3" height="21.9"/><rect x="577" y="495.2" width="3" height="24.8"/><rect x="581" y="494.1" width="3" height="25.9"/><rect x="585" y="493.0" width="3" height="27.0"/><rect x="589" y="492.1" width="3" height="27.9"/><rect x="593" y="492.1" width="3" height="27.9"/><rect x="597" y="494.1" width="3" height="25.9"/><rect x="601" y="497.3" width="3" height="22.7"/><rect x="605" y="500.2" width="3" height="19.8"/><rect x="609" y="500.2" width="3" height="19.8"/><rect x="613" y="501.1" width="3" height="18.9"/><rect x="617" y="502.1" width="3" height="17.9"/><rect x="621" y="504.0" width="3" height="16.0"/><rect x="625" y="506.2" width="3" height="13.8"/><rect x="629" y="509.2" width="3" height="10.8"/><rect x="633" y="512.1" width="3" height="7.9"/><rect x="637" y="515.0" width="3" height="5.0"/><rect x="641" y="517.1" width="3" height="2.9"/><rect x="645" y="520.0" width="3" height="0.5"/><rect x="649" y="520.0" width="3" height="3.6"/><rect x="653" y="520.0" width="3" height="7.7"/><rect x="657" y="520.0" width="3" height="10.7"/><rect x="661" y="520.0" width="3" height="12.9"/><rect x="665" y="520.0" width="3" height="14.7"/><rect x="669" y="520.0" width="3" height="16.8"/><rect x="673" y="520.0" width="3" height="18.7"/><rect x="677" y="520.0" width="3" height="19.8"/><rect x="681" y="520.0" width="3" height="21.7"/><rect x="685" y="520.0" width="3" height="21.7"/><rect x="689" y="520.0" width="3" height="21.7"/><rect x="693" y="520.0" width="3" height="21.7"/><rect x="697" y="520.0" width="3" height="19.5"/><rect x="701" y="520.0" width="3" height="19.0"/><rect x="705" y="520.0" width="3" height="18.5"/><rect x="709" y="520.0" width="3" height="23.6"/><rect x="713" y="520.0" width="3" height="27.6"/><rect x="717" y="520.0" width="3" height="30.5"/><rect x="721" y="520.0" width="3" height="31.6"/><rect x="725" y="520.0" width="3" height="28.7"/><rect x="729" y="520.0" width="3" height="26.5"/><rect x="733" y="520.0" width="3" height="25.5"/><rect x="737" y="520.0" width="3" height="24.4"/><rect x="741" y="520.0" width="3" height="23.3"/><rect x="745" y="520.0" width="3" height="24.4"/><rect x="749" y="520.0" width="3" height="23.6"/><rect x="753" y="520.0" width="3" height="23.3"/><rect x="757" y="520.0" width="3" height="21.7"/><rect x="761" y="520.0" width="3" height="20.6"/><rect x="765" y="520.0" width="3" height="21.7"/><rect x="769" y="520.0" width="3" height="22.6"/><rect x="773" y="520.0" width="3" height="25.5"/><rect x="777" y="520.0" width="3" height="28.7"/><rect x="781" y="520.0" width="3" height="31.6"/><rect x="785" y="520.0" width="3" height="34.6"/><rect x="789" y="520.0" width="3" height="34.6"/><rect x="793" y="520.0" width="3" height="33.8"/><rect x="797" y="520.0" width="3" height="32.5"/><rect x="801" y="520.0" width="3" height="30.3"/><rect x="805" y="520.0" width="3" height="28.7"/><rect x="809" y="520.0" width="3" height="26.5"/><rect x="813" y="520.0" width="3" height="24.7"/><rect x="817" y="520.0" width="3" height="22.8"/><rect x="821" y="520.0" width="3" height="21.7"/><rect x="825" y="520.0" width="3" height="19.5"/><rect x="829" y="520.0" width="3" height="17.6"/><rect x="833" y="520.0" width="3" height="16.8"/><rect x="837" y="520.0" width="3" height="13.6"/><rect x="841" y="520.0" width="3" height="11.7"/><rect x="845" y="520.0" width="3" height="10.8"/><rect x="849" y="520.0" width="3" height="4.8"/><rect x="853" y="518.2" width="3" height="1.8"/><rect x="857" y="514.0" width="3" height="6.0"/><rect x="861" y="509.0" width="3" height="11.0"/><rect x="865" y="505.0" width="3" height="15.0"/><rect x="869" y="502.2" width="3" height="17.8"/><rect x="873" y="501.1" width="3" height="18.9"/><rect x="877" y="501.1" width="3" height="18.9"/><rect x="881" y="501.1" width="3" height="18.9"/><rect x="885" y="502.2" width="3" height="17.8"/><rect x="889" y="502.2" width="3" height="17.8"/><rect x="893" y="502.2" width="3" height="17.8"/><rect x="897" y="503.2" width="3" height="16.8"/><rect x="901" y="503.2" width="3" height="16.8"/><rect x="905" y="503.2" width="3" height="16.8"/><rect x="909" y="503.2" width="3" height="16.8"/><rect x="913" y="503.2" width="3" height="16.8"/><rect x="917" y="503.2" width="3" height="16.8"/><rect x="921" y="504.0" width="3" height="16.0"/></g>
<polyline fill="none" stroke="#ff0000" stroke-width="1.0" stroke-linejoin="round" shape-rendering="crispEdges" points="2.5,556.3 6.5,557.3 10.5,558.3 14.5,558.8 18.5,559.3 22.5,559.5 26.5,559.7 30.5,559.9 34.5,560.2 38.5,560.4 42.5,561.0 46.5,562.3 50.5,562.3 54.5,561.4 58.5,560.1 62.5,558.1 66.5,555.8 70.5,552.9 74.5,550.1 78.5,547.9 82.5,546.2 86.5,545.4 90.5,545.4 94.5,546.1 98.5,548.0 102.5,550.2 106.5,552.6 110.5,555.0 114.5,557.1 118.5,559.0 122.5,560.5 126.5,561.6 130.5,562.4 134.5,562.9 138.5,563.3 142.5,563.9 146.5,564.4 150.5,564.4 154.5,563.9 158.5,563.3 162.5,562.1 166.5,560.2 170.5,558.3 174.5,556.6 178.5,555.1 182.5,553.9 186.5,553.3 190.5,553.3 194.5,553.3 198.5,553.3 202.5,554.3 206.5,554.4 210.5,554.4 214.5,554.4 218.5,553.4 222.5,552.2 226.5,551.0 230.5,549.9 234.5,548.9 238.5,547.6 242.5,545.9 246.5,544.8 250.5,543.7 254.5,542.7 258.5,541.7 262.5,540.4 266.5,538.9 270.5,538.1 274.5,537.5 278.5,537.5 282.5,537.5 286.5,538.3 290.5,539.4 294.5,540.7 298.5,542.3 302.5,544.0 306.5,545.7 310.5,546.7 314.5,547.7 318.5,548.5 322.5,548.5 326.5,547.6 330.5,546.4 334.5,544.8 338.5,543.3 342.5,541.8 346.5,540.4 350.5,538.9 354.5,537.0 358.5,535.0 362.5,533.4 366.5,532.0 370.5,531.0 374.5,530.4 378.5,530.4 382.5,530.1 386.5,529.3 390.5,529.3 394.5,530.4 398.5,530.4 402.5,530.4 406.5,531.5 410.5,531.5 414.5,532.4 418.5,533.4 422.5,534.2 426.5,535.3 430.5,536.5 434.5,538.3 438.5,539.5 442.5,539.5 446.5,539.5 450.5,538.2 454.5,536.7 458.5,535.3 462.5,533.3 466.5,531.0 470.5,528.2 474.5,525.5 478.5,523.6 482.5,522.0 486.5,520.5 490.5,518.8 494.5,516.9 498.5,514.6 502.5,512.4 506.5,510.4 510.5,508.7 514.5,507.0 518.5,506.0 522.5,505.0 526.5,503.9 530.5,503.4 534.5,503.4 538.5,504.5 542.5,504.5 546.5,505.1 550.5,506.4 554.5,507.5 558.5,507.5 562.5,507.3 566.5,506.5 570.5,506.5 574.5,505.2 578.5,503.5 582.5,501.9 586.5,500.4 590.5,498.9 594.5,497.4 598.5,496.1 602.5,495.5 606.5,495.4 610.5,495.4 614.5,496.2 618.5,497.4 622.5,498.5 626.5,500.0 630.5,501.8 634.5,504.0 638.5,505.6 642.5,507.4 646.5,510.0 650.5,512.4 654.5,515.1 658.5,518.3 662.5,520.9 666.5,523.4 670.5,526.3 674.5,529.4 678.5,531.4 682.5,533.3 686.5,535.1 690.5,536.9 694.5,538.3 698.5,539.1 702.5,539.4 706.5,539.7 710.5,540.2 714.5,541.1 718.5,542.2 722.5,543.5 726.5,544.6 730.5,545.4 734.5,545.5 738.5,546.5 742.5,546.5 746.5,546.5 750.5,546.5 754.5,545.4 758.5,544.1 762.5,543.3 766.5,543.3 770.5,542.6 774.5,542.6 778.5,543.4 782.5,544.2 786.5,545.2 790.5,546.5 794.5,548.2 798.5,549.2 802.5,550.5 806.5,551.4 810.5,551.4 814.5,550.3 818.5,549.1 822.5,548.1 826.5,546.1 830.5,544.1 834.5,542.4 838.5,541.2 842.5,539.1 846.5,537.1 850.5,535.0 854.5,532.0 858.5,529.0 862.5,525.6 866.5,521.8 870.5,519.2 874.5,515.2 878.5,512.2 882.5,508.2 886.5,506.1 890.5,504.4 894.5,503.4 898.5,502.4 902.5,502.4 906.5,502.4 910.5,502.4 914.5,502.4 918.5,502.4 922.5,502.4"/>
</g>
<text x="6.5" y="499.6" font-size="10" fill="#000" font-weight="normal" text-anchor="start" textLength="147.0" lengthAdjust="spacingAndGlyphs"  stroke="#000" stroke-width="0.18">MACD(12,26,9) 0.013312 0.014357</text>
<rect x="1165" y="489" width="2" height="1" fill="#000" shape-rendering="crispEdges"/>
<rect x="1165" y="520" width="2" height="1" fill="#000" shape-rendering="crispEdges"/>
<rect x="1165" y="570" width="2" height="1" fill="#000" shape-rendering="crispEdges"/>
<text x="1168.5" y="498" font-size="10" fill="#000" font-weight="normal" text-anchor="start" textLength="37.3" lengthAdjust="spacingAndGlyphs"  stroke="#000" stroke-width="0.18">0.025609</text>
<text x="1168.5" y="524" font-size="10" fill="#000" font-weight="normal" text-anchor="start" textLength="17.8" lengthAdjust="spacingAndGlyphs"  stroke="#000" stroke-width="0.18">0.00</text>
<text x="1168.8" y="568" font-size="10" fill="#000" font-weight="normal" text-anchor="start" textLength="41.0" lengthAdjust="spacingAndGlyphs"  stroke="#000" stroke-width="0.18">-0.040386</text>
<g clip-path="url(#cr)">
<g stroke="#c0c0c0" stroke-width="1" stroke-dasharray="3.4 2.6" shape-rendering="crispEdges"><line x1="3" y1="600.5" x2="1164" y2="600.5"/><line x1="3" y1="634.5" x2="1164" y2="634.5"/></g>
<polyline fill="none" stroke="#1e90ff" stroke-width="1.0" stroke-linejoin="round" shape-rendering="crispEdges" points="2.0,622.5 2.5,622.5 6.5,622.5 10.5,627.3 14.5,625.5 18.5,628.4 22.5,628.5 26.5,629.9 30.5,631.8 34.5,633.7 38.5,628.5 42.5,628.5 46.5,627.9 50.5,620.5 54.5,620.5 58.5,615.2 62.5,617.3 66.5,621.4 70.5,621.6 74.5,622.4 78.5,624.2 82.5,629.3 86.5,633.4 90.5,636.2 94.5,636.2 98.5,627.9 102.5,630.1 106.5,626.4 110.5,628.0 114.5,627.5 118.5,628.7 122.5,632.0 126.5,634.3 130.5,633.1 134.5,628.6 138.5,631.3 142.5,631.4 146.5,624.9 150.5,623.4 154.5,625.1 158.5,627.1 162.5,626.1 166.5,625.1 170.5,623.5 174.5,627.4 178.5,628.7 182.5,630.9 186.5,634.4 190.5,634.4 194.5,632.4 198.5,632.3 202.5,630.1 206.5,624.5 210.5,625.5 214.5,625.5 218.5,626.2 222.5,628.2 226.5,631.2 230.5,629.5 234.5,629.3 238.5,626.8 242.5,621.6 246.5,619.6 250.5,622.3 254.5,627.4 258.5,626.2 262.5,619.2 266.5,623.2 270.5,628.2 274.5,629.5 278.5,628.4 282.5,628.7 286.5,636.2 290.5,638.3 294.5,633.2 298.5,627.8 302.5,630.4 306.5,627.3 310.5,623.6 314.5,627.3 318.5,626.1 322.5,623.1 326.5,620.8 330.5,620.5 334.5,616.5 338.5,621.2 342.5,625.1 346.5,623.3 350.5,616.3 354.5,615.3 358.5,616.9 362.5,622.4 366.5,616.7 370.5,620.7 374.5,626.1 378.5,624.4 382.5,618.5 386.5,621.3 390.5,621.4 394.5,618.6 398.5,621.4 402.5,621.6 406.5,625.5 410.5,628.4 414.5,626.2 418.5,628.4 422.5,627.4 426.5,627.4 430.5,630.4 434.5,625.2 438.5,618.4 442.5,613.8 446.5,616.4 450.5,615.2 454.5,612.6 458.5,615.1 462.5,617.5 466.5,615.6 470.5,612.6 474.5,610.7 478.5,615.5 482.5,613.2 486.5,615.3 490.5,614.1 494.5,605.9 498.5,606.5 502.5,601.5 506.5,608.7 510.5,611.6 514.5,616.4 518.5,613.6 522.5,614.4 526.5,613.6 530.5,613.6 534.5,612.5 538.5,613.4 542.5,611.4 546.5,613.4 550.5,614.2 554.5,611.6 558.5,608.8 562.5,603.3 566.5,606.4 570.5,606.6 574.5,600.6 578.5,600.4 582.5,604.2 586.5,602.6 590.5,603.3 594.5,603.3 598.5,609.2 602.5,615.2 606.5,613.2 610.5,609.7 614.5,610.6 618.5,610.6 622.5,613.6 626.5,615.2 630.5,621.6 634.5,621.6 638.5,622.5 642.5,621.7 646.5,626.6 650.5,629.2 654.5,631.3 658.5,631.4 662.5,631.4 666.5,631.6 670.5,635.3 674.5,633.2 678.5,634.5 682.5,636.4 686.5,634.3 690.5,632.4 694.5,631.8 698.5,624.5 702.5,624.5 706.5,631.9 710.5,640.0 714.5,640.4 718.5,641.0 722.5,632.0 726.5,623.0 730.5,623.4 734.5,626.4 738.5,626.2 742.5,624.8 746.5,629.4 750.5,627.6 754.5,626.1 758.5,623.5 762.5,623.8 766.5,630.1 770.5,631.2 774.5,635.3 778.5,637.2 782.5,638.1 786.5,639.3 790.5,635.1 794.5,630.7 798.5,630.3 802.5,623.4 806.5,625.3 810.5,625.4 814.5,625.1 818.5,621.5 822.5,625.2 826.5,624.1 830.5,620.3 834.5,622.2 838.5,617.5 842.5,616.9 846.5,620.7 850.5,605.4 854.5,605.4 858.5,605.4 862.5,602.7 866.5,601.0 870.5,604.2 874.5,604.5 878.5,608.8 882.5,609.2 886.5,610.4 890.5,608.6 894.5,608.3 898.5,606.4 902.5,605.4 906.5,607.2 910.5,611.1 914.5,606.5 918.5,609.2 922.5,609.2"/>
</g>
<text x="6.5" y="585.6" font-size="10" fill="#000" font-weight="normal" text-anchor="start" textLength="67.5" lengthAdjust="spacingAndGlyphs"  stroke="#000" stroke-width="0.18">RSI(14) 59.3056</text>
<rect x="1165" y="574" width="2" height="1" fill="#000" shape-rendering="crispEdges"/>
<rect x="1165" y="659" width="2" height="1" fill="#000" shape-rendering="crispEdges"/>
<text x="1168.5" y="584" font-size="10" fill="#000" font-weight="normal" text-anchor="start" textLength="14.5" lengthAdjust="spacingAndGlyphs"  stroke="#000" stroke-width="0.18">100</text>
<text x="1167.2" y="604" font-size="10" fill="#000" font-weight="normal" text-anchor="start" textLength="9.6" lengthAdjust="spacingAndGlyphs"  stroke="#000" stroke-width="0.18">70</text>
<text x="1167.2" y="638" font-size="10" fill="#000" font-weight="normal" text-anchor="start" textLength="9.6" lengthAdjust="spacingAndGlyphs"  stroke="#000" stroke-width="0.18">30</text>
<text x="1168.2" y="657" font-size="10" fill="#000" font-weight="normal" text-anchor="start" textLength="4.8" lengthAdjust="spacingAndGlyphs"  stroke="#000" stroke-width="0.18">0</text>
<rect x="2" y="661" width="1" height="3" fill="#000" shape-rendering="crispEdges"/>
<text x="1.5" y="672.5" font-size="10" fill="#000" font-weight="normal" text-anchor="start" textLength="50.5" lengthAdjust="spacingAndGlyphs"  stroke="#000" stroke-width="0.18">12 Oct 2020</text>
<rect x="66" y="661" width="1" height="3" fill="#000" shape-rendering="crispEdges"/>
<text x="65.5" y="672.5" font-size="10" fill="#000" font-weight="normal" text-anchor="start" textLength="50.5" lengthAdjust="spacingAndGlyphs"  stroke="#000" stroke-width="0.18">30 Oct 2020</text>
<rect x="130" y="661" width="1" height="3" fill="#000" shape-rendering="crispEdges"/>
<text x="129.5" y="672.5" font-size="10" fill="#000" font-weight="normal" text-anchor="start" textLength="52.4" lengthAdjust="spacingAndGlyphs"  stroke="#000" stroke-width="0.18">18 Nov 2020</text>
<rect x="194" y="661" width="1" height="3" fill="#000" shape-rendering="crispEdges"/>
<text x="193.5" y="672.5" font-size="10" fill="#000" font-weight="normal" text-anchor="start" textLength="46.9" lengthAdjust="spacingAndGlyphs"  stroke="#000" stroke-width="0.18">7 Dec 2020</text>
<rect x="258" y="661" width="1" height="3" fill="#000" shape-rendering="crispEdges"/>
<text x="257.5" y="672.5" font-size="10" fill="#000" font-weight="normal" text-anchor="start" textLength="52.0" lengthAdjust="spacingAndGlyphs"  stroke="#000" stroke-width="0.18">25 Dec 2020</text>
<rect x="322" y="661" width="1" height="3" fill="#000" shape-rendering="crispEdges"/>
<text x="321.5" y="672.5" font-size="10" fill="#000" font-weight="normal" text-anchor="start" textLength="50.5" lengthAdjust="spacingAndGlyphs"  stroke="#000" stroke-width="0.18">14 Jan 2021</text>
<rect x="386" y="661" width="1" height="3" fill="#000" shape-rendering="crispEdges"/>
<text x="385.5" y="672.5" font-size="10" fill="#000" font-weight="normal" text-anchor="start" textLength="46.3" lengthAdjust="spacingAndGlyphs"  stroke="#000" stroke-width="0.18">2 Feb 2021</text>
<rect x="450" y="661" width="1" height="3" fill="#000" shape-rendering="crispEdges"/>
<text x="449.5" y="672.5" font-size="10" fill="#000" font-weight="normal" text-anchor="start" textLength="51.4" lengthAdjust="spacingAndGlyphs"  stroke="#000" stroke-width="0.18">20 Feb 2021</text>
<rect x="514" y="661" width="1" height="3" fill="#000" shape-rendering="crispEdges"/>
<text x="513.5" y="672.5" font-size="10" fill="#000" font-weight="normal" text-anchor="start" textLength="51.9" lengthAdjust="spacingAndGlyphs"  stroke="#000" stroke-width="0.18">11 Mar 2021</text>
<rect x="578" y="661" width="1" height="3" fill="#000" shape-rendering="crispEdges"/>
<text x="577.5" y="672.5" font-size="10" fill="#000" font-weight="normal" text-anchor="start" textLength="51.9" lengthAdjust="spacingAndGlyphs"  stroke="#000" stroke-width="0.18">30 Mar 2021</text>
<rect x="642" y="661" width="1" height="3" fill="#000" shape-rendering="crispEdges"/>
<text x="641.5" y="672.5" font-size="10" fill="#000" font-weight="normal" text-anchor="start" textLength="50.6" lengthAdjust="spacingAndGlyphs"  stroke="#000" stroke-width="0.18">17 Apr 2021</text>
<rect x="706" y="661" width="1" height="3" fill="#000" shape-rendering="crispEdges"/>
<text x="705.5" y="672.5" font-size="10" fill="#000" font-weight="normal" text-anchor="start" textLength="48.1" lengthAdjust="spacingAndGlyphs"  stroke="#000" stroke-width="0.18">6 May 2021</text>
<rect x="770" y="661" width="1" height="3" fill="#000" shape-rendering="crispEdges"/>
<text x="769.5" y="672.5" font-size="10" fill="#000" font-weight="normal" text-anchor="start" textLength="53.2" lengthAdjust="spacingAndGlyphs"  stroke="#000" stroke-width="0.18">25 May 2021</text>
<rect x="834" y="661" width="1" height="3" fill="#000" shape-rendering="crispEdges"/>
<text x="833.5" y="672.5" font-size="10" fill="#000" font-weight="normal" text-anchor="start" textLength="50.8" lengthAdjust="spacingAndGlyphs"  stroke="#000" stroke-width="0.18">12 Jun 2021</text>
<rect x="898" y="661" width="1" height="3" fill="#000" shape-rendering="crispEdges"/>
<text x="897.5" y="672.5" font-size="10" fill="#000" font-weight="normal" text-anchor="start" textLength="42.6" lengthAdjust="spacingAndGlyphs"  stroke="#000" stroke-width="0.18">1 Jul 2021</text>
</svg>
<svg id="panel" width="240" height="110" viewBox="0 0 240 110" font-family="Liberation Sans, sans-serif" text-rendering="geometricPrecision">
<defs>
<linearGradient id="gt" x1="0" y1="0" x2="0" y2="1"><stop offset="0" stop-color="#fb5353"/><stop offset="1" stop-color="#dd3434"/></linearGradient>
<linearGradient id="gb" x1="0" y1="0" x2="0" y2="1"><stop offset="0" stop-color="#d42a2a"/><stop offset="1" stop-color="#b00404"/></linearGradient>
<linearGradient id="gb2" gradientUnits="userSpaceOnUse" x1="0" y1="69" x2="0" y2="102"><stop offset="0" stop-color="#d42a2a"/><stop offset="1" stop-color="#b00404"/></linearGradient>
<linearGradient id="gs" x1="0" y1="0" x2="0" y2="1"><stop offset="0" stop-color="#f4f4f4"/><stop offset="0.5" stop-color="#e2e2e2"/><stop offset="0.5" stop-color="#d4d4d4"/><stop offset="1" stop-color="#cfcfcf"/></linearGradient>
</defs>
<rect x="57" y="45" width="116" height="24" fill="#fff"/><rect x="5" y="43" width="219" height="2" fill="#fff"/>
<rect x="5" y="45" width="52" height="25" fill="url(#gt)"/>
<rect x="5" y="69" width="109" height="33" fill="url(#gb)"/>
<rect x="5" y="45" width="52" height="1" fill="#c81e1e"/><rect x="5" y="45" width="1" height="57" fill="#c81e1e" opacity="0.6"/>
<rect x="9" y="69" width="44" height="1" fill="#ffd0d0" opacity="0.85"/>
<rect x="172" y="45" width="52" height="25" fill="url(#gt)"/>
<rect x="116" y="69" width="108" height="33" fill="url(#gb)"/>
<rect x="172" y="45" width="52" height="1" fill="#c81e1e"/>
<rect x="176" y="69" width="44" height="1" fill="#ffd0d0" opacity="0.85"/>
<rect x="59.5" y="45.5" width="110" height="21.5" fill="#fff" stroke="#a9aeb6" stroke-width="1"/>
<rect x="60.5" y="46.5" width="19.5" height="19.5" fill="url(#gs)"/><rect x="80" y="46" width="1" height="21" fill="#a9aeb6"/>
<rect x="149.5" y="46.5" width="19.5" height="19.5" fill="url(#gs)"/><rect x="148.5" y="46" width="1" height="21" fill="#a9aeb6"/>
<path d="M66.8 54 L73.2 54 L70 57.6 Z" fill="#4a5fc0"/>
<path d="M155.8 57.4 L162.2 57.4 L159 53.6 Z" fill="#4a5fc0"/>
<text x="121.4" y="60" font-size="12.5" fill="#0c0c1c" font-weight="normal" text-anchor="start" textLength="23.4" lengthAdjust="spacingAndGlyphs" >3.00</text>
<text x="17.4" y="61" font-size="12.5" fill="#fff" font-weight="normal" text-anchor="start" textLength="25.5" lengthAdjust="spacingAndGlyphs" >SELL</text>
<text x="185.5" y="61" font-size="12.5" fill="#fff" font-weight="normal" text-anchor="start" textLength="22.5" lengthAdjust="spacingAndGlyphs" >BUY</text>
<text x="24.9" y="97" font-size="11.5" fill="#fff" font-weight="bold" text-anchor="start" textLength="22.6" lengthAdjust="spacingAndGlyphs" >6.47</text>
<text x="54.2" y="96.8" font-size="33.5" fill="#fff" font-weight="normal" text-anchor="start" textLength="33.8" lengthAdjust="spacingAndGlyphs" stroke="url(#gb2)" stroke-width="0.9">36</text>
<text x="92.2" y="81" font-size="11" fill="#fff" font-weight="bold" text-anchor="start" textLength="6.6" lengthAdjust="spacingAndGlyphs" >8</text>
<text x="134.9" y="97" font-size="11.5" fill="#fff" font-weight="bold" text-anchor="start" textLength="22.6" lengthAdjust="spacingAndGlyphs" >6.47</text>
<text x="164.2" y="96.8" font-size="33.5" fill="#fff" font-weight="normal" text-anchor="start" textLength="33.8" lengthAdjust="spacingAndGlyphs" stroke="url(#gb2)" stroke-width="0.9">60</text>
<text x="203.4" y="81" font-size="11" fill="#fff" font-weight="bold" text-anchor="start" textLength="6.2" lengthAdjust="spacingAndGlyphs" >5</text>
</svg>
<div id="tabs"><div class="ln0"></div><div class="ln0b"></div><div class="ln1"></div><div class="ln1b"></div><div class="ln2"></div><div class="ln3"></div><div class="active"></div>
<svg width="1207" height="28" style="position:absolute;left:0;top:0" font-family="Liberation Sans, sans-serif" text-rendering="geometricPrecision"><text x="15.4" y="17" font-size="12.5" fill="#7b7b7b" font-weight="normal" text-anchor="start" textLength="67.4" lengthAdjust="spacingAndGlyphs" >EURUSD,H4</text><text x="106.4" y="17" font-size="12.5" fill="#7b7b7b" font-weight="normal" text-anchor="start" textLength="81.3" lengthAdjust="spacingAndGlyphs" >AUDUSD,Daily</text><text x="209.5" y="17" font-size="12.5" fill="#7b7b7b" font-weight="normal" text-anchor="start" textLength="66.5" lengthAdjust="spacingAndGlyphs" >USDCHF,H4</text><text x="298.3" y="17" font-size="12.5" fill="#7b7b7b" font-weight="normal" text-anchor="start" textLength="68.8" lengthAdjust="spacingAndGlyphs" >USDCAD,H4</text><text x="390" y="17" font-size="12.5" fill="#000" font-weight="normal" text-anchor="start" textLength="82.3" lengthAdjust="spacingAndGlyphs"  stroke="#000" stroke-width="0.18">USDCNH,Daily</text><text x="495.5" y="17" font-size="12.5" fill="#7b7b7b" font-weight="normal" text-anchor="start" textLength="51.5" lengthAdjust="spacingAndGlyphs" >UKOil,H4</text><text x="569" y="17" font-size="12.5" fill="#7b7b7b" font-weight="normal" text-anchor="start" textLength="46.5" lengthAdjust="spacingAndGlyphs" >DJ30,H1</text><text x="639.7" y="17" font-size="12.5" fill="#7b7b7b" font-weight="normal" text-anchor="start" textLength="51.3" lengthAdjust="spacingAndGlyphs" >USDX,H1</text><text x="712.6" y="17" font-size="12.5" fill="#7b7b7b" font-weight="normal" text-anchor="start" textLength="79.8" lengthAdjust="spacingAndGlyphs" >XAUUSD,M30</text><text x="815.5" y="17" font-size="12.5" fill="#7b7b7b" font-weight="normal" text-anchor="start" textLength="79.8" lengthAdjust="spacingAndGlyphs" >GBPUSD,Daily</text><rect x="94.8" y="5" width="1.2" height="14" fill="#6a6a6a"/><rect x="199.0" y="5" width="1.2" height="14" fill="#6a6a6a"/><rect x="287.0" y="5" width="1.2" height="14" fill="#6a6a6a"/><rect x="558.9" y="5" width="1.2" height="14" fill="#6a6a6a"/><rect x="626.8" y="5" width="1.2" height="14" fill="#6a6a6a"/><rect x="703.4" y="5" width="1.2" height="14" fill="#6a6a6a"/><rect x="803.2" y="5" width="1.2" height="14" fill="#6a6a6a"/><rect x="906.4" y="5" width="1.2" height="14" fill="#6a6a6a"/><path d="M1183.2 8 L1179.9 11 L1183.2 14 Z" fill="#8e8e8e"/><path d="M1198.9 8 L1202.2 11 L1198.9 14 Z" fill="#8e8e8e"/></svg>
</div>
</body></html>
